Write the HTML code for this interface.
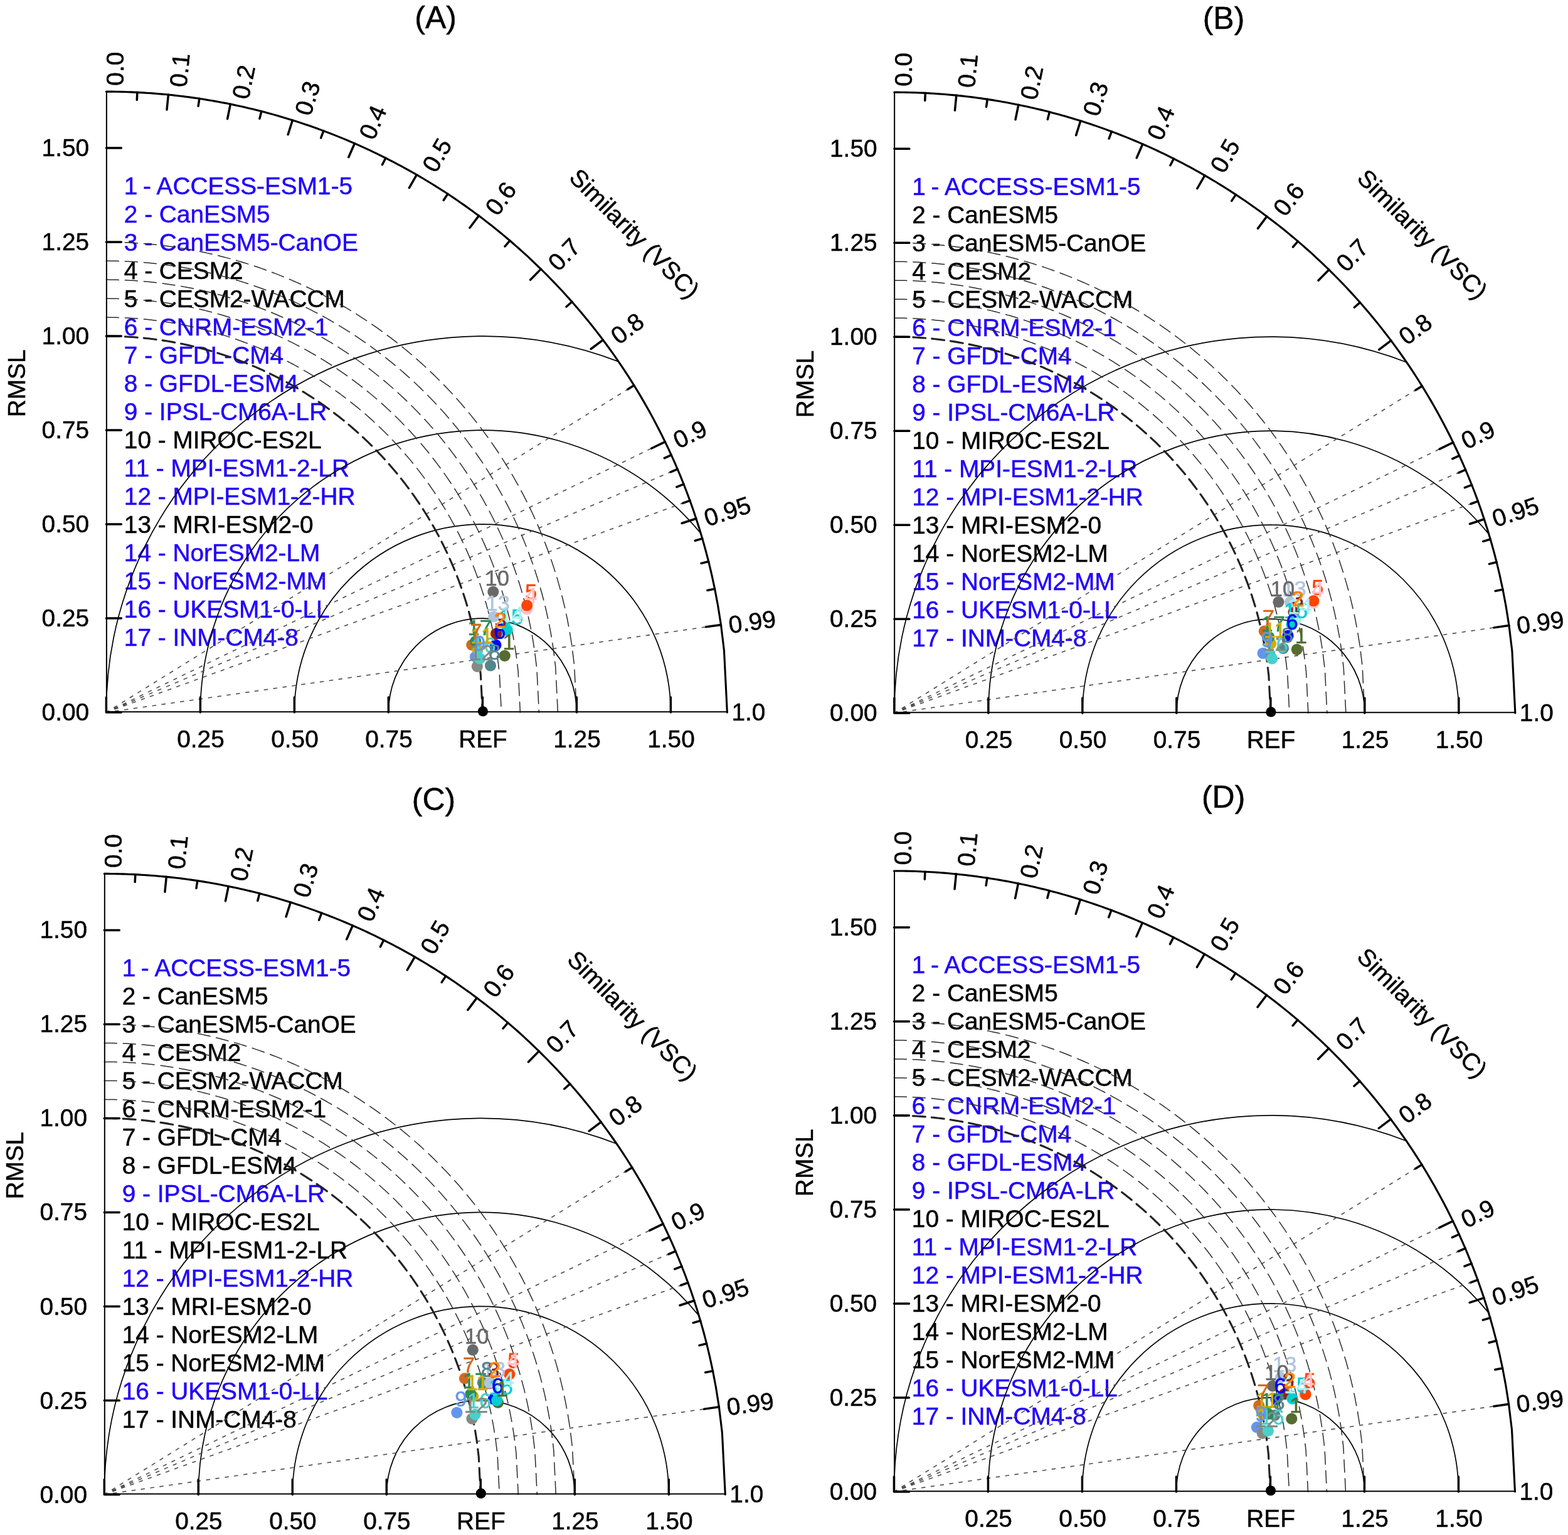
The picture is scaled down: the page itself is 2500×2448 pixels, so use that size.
<!DOCTYPE html>
<html lang="en"><head><meta charset="utf-8"><title>Taylor diagrams</title>
<style>
html,body{margin:0;padding:0;background:#fff}
svg{display:block}
text{font-family:"Liberation Sans", Arial, Helvetica, sans-serif;font-size:38.8px;stroke-width:.5px}
text:not([stroke]){stroke:#000}
text.b{fill:#2000ff;stroke:#2000ff}
path{fill:none;stroke:#000}
.gam{stroke-width:1.7}
.rad{stroke:#4d4d4d;stroke-width:1.6;stroke-dasharray:6.5 8.5;stroke-dashoffset:1.1}
.dc{stroke:#2b2b2b;stroke-width:1.5;stroke-dasharray:20 10;stroke-linecap:round;stroke-linejoin:round}
.dcb{stroke:#222;stroke-width:3.1;stroke-dasharray:20 10;stroke-linecap:round;stroke-linejoin:round}
.ax{stroke-width:2;stroke-linejoin:round;stroke-linecap:round}
.arc{stroke-width:3.1;stroke-linecap:round;stroke-linejoin:round}
.tk{stroke-width:3.5;stroke-linecap:round}
</style></head>
<body>
<svg xmlns="http://www.w3.org/2000/svg" width="2500" height="2448" viewBox="0 0 2500 2448">
<rect width="2500" height="2448" fill="#fff"/>
<g transform="translate(169.4 1136.1)">
<text transform="translate(525.2 -1091.4)" text-anchor="middle" style="font-size:50px">(A)</text>
<text transform="translate(-129 -524.7) rotate(-90)" text-anchor="middle">RMSL</text>
<text transform="translate(-27.3 13.1)" text-anchor="end">0.00</text>
<text transform="translate(-27.3 -136.9)" text-anchor="end">0.25</text>
<text transform="translate(-27.3 -286.9)" text-anchor="end">0.50</text>
<text transform="translate(-27.3 -436.9)" text-anchor="end">0.75</text>
<text transform="translate(-27.3 -586.9)" text-anchor="end">1.00</text>
<text transform="translate(-27.3 -736.9)" text-anchor="end">1.25</text>
<text transform="translate(-27.3 -886.9)" text-anchor="end">1.50</text>
<text transform="translate(150.6 55.8)" text-anchor="middle">0.25</text>
<text transform="translate(300.6 55.8)" text-anchor="middle">0.50</text>
<text transform="translate(450.6 55.8)" text-anchor="middle">0.75</text>
<text transform="translate(600.6 55.8)" text-anchor="middle">REF</text>
<text transform="translate(750.6 55.8)" text-anchor="middle">1.25</text>
<text transform="translate(900.6 55.8)" text-anchor="middle">1.50</text>
<text transform="translate(28.4 -826.6)" class="b">1<tspan dx="-2.2"> - ACCESS-ESM1-5</tspan></text>
<text transform="translate(28.4 -781.6)" class="b">2 - CanESM5</text>
<text transform="translate(28.4 -736.6)" class="b">3 - CanESM5-CanOE</text>
<text transform="translate(28.4 -691.6)">4 - CESM2</text>
<text transform="translate(28.4 -646.6)">5 - CESM2-WACCM</text>
<text transform="translate(28.4 -601.6)" class="b">6 - CNRM-ESM2-1</text>
<text transform="translate(28.4 -556.6)" class="b">7 - GFDL-CM4</text>
<text transform="translate(28.4 -511.6)" class="b">8 - GFDL-ESM4</text>
<text transform="translate(28.4 -466.6)" class="b">9 - IPSL-CM6A-LR</text>
<text transform="translate(28.4 -421.6)">10 - MIROC-ES2L</text>
<text transform="translate(28.4 -376.6)" class="b">11 - MPI-ESM1-2-LR</text>
<text transform="translate(28.4 -331.6)" class="b">12 - MPI-ESM1-2-HR</text>
<text transform="translate(28.4 -286.6)">13 - MRI-ESM2-0</text>
<text transform="translate(28.4 -241.6)" class="b">14 - NorESM2-LM</text>
<text transform="translate(28.4 -196.6)" class="b">15 - NorESM2-MM</text>
<text transform="translate(28.4 -151.6)" class="b">16 - UKESM1-0-LL</text>
<text transform="translate(28.4 -106.6)" class="b">17 - INM-CM4-8</text>
<text transform="translate(27.7 -999.4) rotate(-90)">0.0</text>
<text transform="translate(127.86 -996.21) rotate(-84.26)">0.1</text>
<text transform="translate(226.81 -976.16) rotate(-78.46)">0.2</text>
<text transform="translate(325.6 -949.66) rotate(-72.54)">0.3</text>
<text transform="translate(426.49 -910.96) rotate(-66.42)">0.4</text>
<text transform="translate(525.49 -858.58) rotate(-60)">0.5</text>
<text transform="translate(623.52 -789.86) rotate(-53.13)">0.6</text>
<text transform="translate(720.78 -701.48) rotate(-45.57)">0.7</text>
<text transform="translate(817.26 -585.32) rotate(-36.87)">0.8</text>
<text transform="translate(912.23 -419.81) rotate(-25.84)">0.9</text>
<text transform="translate(958.69 -296.05) rotate(-18.19)">0.95</text>
<text transform="translate(994.39 -125.83) rotate(-8.11)">0.99</text>
<text transform="translate(997 12.7)">1.0</text>
<text transform="translate(842.4 -763.8) rotate(45)" text-anchor="middle" dy="13.6">Similarity (VSC)</text>
<path class="gam" d="M750 0A150 150 0 0 0 450 0M900 0A300 300 0 0 0 300 0M948 -285.3A450 450 0 0 0 150 0M816.75 -559.48A600 600 0 0 0 0 0"/>
<path class="rad" d="M0 0L841.5 -521.51M0 0L891 -431.53M0 0L910.8 -388M0 0L930.6 -337.76M0 0L980.1 -139.66"/>
<path class="dc" d="M0 -630L3.15 -629.99L6.3 -629.97L9.45 -629.93L12.6 -629.87L15.75 -629.8L18.9 -629.72L22.05 -629.61L25.2 -629.5L28.35 -629.36L31.5 -629.21L34.65 -629.05L37.8 -628.86L40.95 -628.67L44.1 -628.45L47.25 -628.23L50.4 -627.98L53.55 -627.72L56.7 -627.44L59.85 -627.15L63 -626.84L66.15 -626.52L69.3 -626.18L72.45 -625.82L75.6 -625.45L78.75 -625.06L81.9 -624.65L85.05 -624.23L88.2 -623.8L91.35 -623.34L94.5 -622.87L97.65 -622.39L100.8 -621.88L103.95 -621.36L107.1 -620.83L110.25 -620.28L113.4 -619.71L116.55 -619.13L119.7 -618.52L122.85 -617.91L126 -617.27L129.15 -616.62L132.3 -615.95L135.45 -615.27L138.6 -614.56L141.75 -613.85L144.9 -613.11L148.05 -612.36L151.2 -611.59L154.35 -610.8L157.5 -609.99L160.65 -609.17L163.8 -608.33L166.95 -607.48L170.1 -606.6L173.25 -605.71L176.4 -604.8L179.55 -603.87L182.7 -602.93L185.85 -601.96L189 -600.98L192.15 -599.98L195.3 -598.96L198.45 -597.93L201.6 -596.87L204.75 -595.8L207.9 -594.71L211.05 -593.6L214.2 -592.47L217.35 -591.32L220.5 -590.15L223.65 -588.97L226.8 -587.76L229.95 -586.53L233.1 -585.29L236.25 -584.03L239.4 -582.74L242.55 -581.44L245.7 -580.11L248.85 -578.77L252 -577.4L255.15 -576.02L258.3 -574.61L261.45 -573.19L264.6 -571.74L267.75 -570.27L270.9 -568.78L274.05 -567.27L277.2 -565.74L280.35 -564.18L283.5 -562.61L286.65 -561.01L289.8 -559.39L292.95 -557.75L296.1 -556.08L299.25 -554.39L302.4 -552.68L305.55 -550.94L308.7 -549.19L311.85 -547.4L315 -545.6L318.15 -543.77L321.3 -541.91L324.45 -540.03L327.6 -538.12L330.75 -536.19L333.9 -534.24L337.05 -532.26L340.2 -530.25L343.35 -528.21L346.5 -526.15L349.65 -524.07L352.8 -521.95L355.95 -519.81L359.1 -517.64L362.25 -515.44L365.4 -513.21L368.55 -510.95L371.7 -508.66L374.85 -506.35L378 -504L381.15 -501.62L384.3 -499.21L387.45 -496.77L390.6 -494.3L393.75 -491.79L396.9 -489.25L400.05 -486.68L403.2 -484.08L406.35 -481.44L409.5 -478.76L412.65 -476.05L415.8 -473.3L418.95 -470.51L422.1 -467.69L425.25 -464.83L428.4 -461.92L431.55 -458.98L434.7 -456L437.85 -452.98L441 -449.91L444.15 -446.8L447.3 -443.65L450.45 -440.45L453.6 -437.2L456.75 -433.91L459.9 -430.57L463.05 -427.18L466.2 -423.74L469.35 -420.25L472.5 -416.71L475.65 -413.11L478.8 -409.45L481.95 -405.74L485.1 -401.97L488.25 -398.14L491.4 -394.24L494.55 -390.28L497.7 -386.26L500.85 -382.16L504 -378L507.15 -373.76L510.3 -369.45L513.45 -365.06L516.6 -360.59L519.75 -356.03L522.9 -351.39L526.05 -346.66L529.2 -341.83L532.35 -336.9L535.5 -331.87L538.65 -326.74L541.8 -321.49L544.95 -316.12L548.1 -310.62L551.25 -305L554.4 -299.23L557.55 -293.32L560.7 -287.26L563.85 -281.02L567 -274.61L570.15 -268.01L573.3 -261.2L576.45 -254.18L579.6 -246.91L582.75 -239.38L585.9 -231.56L589.05 -223.43L592.2 -214.94L595.35 -206.05L598.5 -196.72L601.65 -186.86L604.8 -176.4L607.95 -165.22L611.1 -153.16L614.25 -139.99L617.4 -125.37L620.55 -108.71L623.7 -88.87L626.85 -62.92L630 0M0 -660L3.3 -659.99L6.6 -659.97L9.9 -659.93L13.2 -659.87L16.5 -659.79L19.8 -659.7L23.1 -659.6L26.4 -659.47L29.7 -659.33L33 -659.17L36.3 -659L39.6 -658.81L42.9 -658.6L46.2 -658.38L49.5 -658.14L52.8 -657.88L56.1 -657.61L59.4 -657.32L62.7 -657.01L66 -656.69L69.3 -656.35L72.6 -655.99L75.9 -655.62L79.2 -655.23L82.5 -654.82L85.8 -654.4L89.1 -653.96L92.4 -653.5L95.7 -653.02L99 -652.53L102.3 -652.02L105.6 -651.5L108.9 -650.95L112.2 -650.39L115.5 -649.82L118.8 -649.22L122.1 -648.61L125.4 -647.98L128.7 -647.33L132 -646.67L135.3 -645.98L138.6 -645.28L141.9 -644.57L145.2 -643.83L148.5 -643.08L151.8 -642.31L155.1 -641.52L158.4 -640.71L161.7 -639.89L165 -639.04L168.3 -638.18L171.6 -637.3L174.9 -636.4L178.2 -635.49L181.5 -634.55L184.8 -633.6L188.1 -632.63L191.4 -631.64L194.7 -630.63L198 -629.6L201.3 -628.55L204.6 -627.49L207.9 -626.4L211.2 -625.3L214.5 -624.17L217.8 -623.03L221.1 -621.86L224.4 -620.68L227.7 -619.48L231 -618.25L234.3 -617.01L237.6 -615.75L240.9 -614.46L244.2 -613.16L247.5 -611.84L250.8 -610.49L254.1 -609.12L257.4 -607.74L260.7 -606.33L264 -604.9L267.3 -603.45L270.6 -601.98L273.9 -600.48L277.2 -598.97L280.5 -597.43L283.8 -595.87L287.1 -594.28L290.4 -592.68L293.7 -591.05L297 -589.4L300.3 -587.72L303.6 -586.03L306.9 -584.31L310.2 -582.56L313.5 -580.79L316.8 -579L320.1 -577.18L323.4 -575.34L326.7 -573.47L330 -571.58L333.3 -569.66L336.6 -567.72L339.9 -565.75L343.2 -563.75L346.5 -561.73L349.8 -559.68L353.1 -557.6L356.4 -555.5L359.7 -553.37L363 -551.21L366.3 -549.02L369.6 -546.81L372.9 -544.56L376.2 -542.29L379.5 -539.98L382.8 -537.65L386.1 -535.28L389.4 -532.89L392.7 -530.46L396 -528L399.3 -525.51L402.6 -522.98L405.9 -520.43L409.2 -517.84L412.5 -515.21L415.8 -512.55L419.1 -509.86L422.4 -507.13L425.7 -504.36L429 -501.56L432.3 -498.72L435.6 -495.84L438.9 -492.92L442.2 -489.96L445.5 -486.96L448.8 -483.92L452.1 -480.84L455.4 -477.71L458.7 -474.55L462 -471.33L465.3 -468.08L468.6 -464.77L471.9 -461.42L475.2 -458.02L478.5 -454.57L481.8 -451.08L485.1 -447.52L488.4 -443.92L491.7 -440.26L495 -436.55L498.3 -432.78L501.6 -428.95L504.9 -425.06L508.2 -421.11L511.5 -417.09L514.8 -413.01L518.1 -408.87L521.4 -404.65L524.7 -400.36L528 -396L531.3 -391.56L534.6 -387.04L537.9 -382.44L541.2 -377.76L544.5 -372.99L547.8 -368.12L551.1 -363.16L554.4 -358.11L557.7 -352.95L561 -347.68L564.3 -342.29L567.6 -336.79L570.9 -331.17L574.2 -325.41L577.5 -319.52L580.8 -313.48L584.1 -307.29L587.4 -300.93L590.7 -294.4L594 -287.69L597.3 -280.77L600.6 -273.64L603.9 -266.28L607.2 -258.67L610.5 -250.78L613.8 -242.59L617.1 -234.07L620.4 -225.18L623.7 -215.87L627 -206.08L630.3 -195.76L633.6 -184.8L636.9 -173.08L640.2 -160.45L643.5 -146.66L646.8 -131.34L650.1 -113.89L653.4 -93.1L656.7 -65.92L660 0M0 -690L3.45 -689.99L6.9 -689.97L10.35 -689.92L13.8 -689.86L17.25 -689.78L20.7 -689.69L24.15 -689.58L27.6 -689.45L31.05 -689.3L34.5 -689.14L37.95 -688.96L41.4 -688.76L44.85 -688.54L48.3 -688.31L51.75 -688.06L55.2 -687.79L58.65 -687.5L62.1 -687.2L65.55 -686.88L69 -686.54L72.45 -686.19L75.9 -685.81L79.35 -685.42L82.8 -685.01L86.25 -684.59L89.7 -684.14L93.15 -683.68L96.6 -683.2L100.05 -682.71L103.5 -682.19L106.95 -681.66L110.4 -681.11L113.85 -680.54L117.3 -679.96L120.75 -679.35L124.2 -678.73L127.65 -678.09L131.1 -677.43L134.55 -676.75L138 -676.06L141.45 -675.35L144.9 -674.61L148.35 -673.86L151.8 -673.09L155.25 -672.31L158.7 -671.5L162.15 -670.68L165.6 -669.83L169.05 -668.97L172.5 -668.09L175.95 -667.19L179.4 -666.27L182.85 -665.33L186.3 -664.37L189.75 -663.4L193.2 -662.4L196.65 -661.38L200.1 -660.35L203.55 -659.29L207 -658.22L210.45 -657.12L213.9 -656.01L217.35 -654.87L220.8 -653.72L224.25 -652.54L227.7 -651.35L231.15 -650.13L234.6 -648.89L238.05 -647.64L241.5 -646.36L244.95 -645.06L248.4 -643.74L251.85 -642.4L255.3 -641.03L258.75 -639.65L262.2 -638.24L265.65 -636.81L269.1 -635.36L272.55 -633.89L276 -632.4L279.45 -630.88L282.9 -629.34L286.35 -627.78L289.8 -626.19L293.25 -624.58L296.7 -622.95L300.15 -621.3L303.6 -619.62L307.05 -617.92L310.5 -616.19L313.95 -614.44L317.4 -612.66L320.85 -610.86L324.3 -609.04L327.75 -607.19L331.2 -605.32L334.65 -603.41L338.1 -601.49L341.55 -599.54L345 -597.56L348.45 -595.55L351.9 -593.52L355.35 -591.46L358.8 -589.37L362.25 -587.26L365.7 -585.12L369.15 -582.95L372.6 -580.75L376.05 -578.52L379.5 -576.26L382.95 -573.98L386.4 -571.66L389.85 -569.31L393.3 -566.93L396.75 -564.53L400.2 -562.09L403.65 -559.61L407.1 -557.11L410.55 -554.57L414 -552L417.45 -549.4L420.9 -546.76L424.35 -544.08L427.8 -541.38L431.25 -538.63L434.7 -535.85L438.15 -533.03L441.6 -530.18L445.05 -527.29L448.5 -524.35L451.95 -521.38L455.4 -518.37L458.85 -515.32L462.3 -512.23L465.75 -509.09L469.2 -505.92L472.65 -502.69L476.1 -499.43L479.55 -496.12L483 -492.76L486.45 -489.35L489.9 -485.9L493.35 -482.4L496.8 -478.84L500.25 -475.24L503.7 -471.58L507.15 -467.87L510.6 -464.1L514.05 -460.27L517.5 -456.39L520.95 -452.45L524.4 -448.45L527.85 -444.38L531.3 -440.25L534.75 -436.05L538.2 -431.79L541.65 -427.45L545.1 -423.04L548.55 -418.56L552 -414L555.45 -409.36L558.9 -404.64L562.35 -399.83L565.8 -394.93L569.25 -389.94L572.7 -384.86L576.15 -379.67L579.6 -374.38L583.05 -368.99L586.5 -363.48L589.95 -357.85L593.4 -352.1L596.85 -346.22L600.3 -340.21L603.75 -334.04L607.2 -327.73L610.65 -321.26L614.1 -314.61L617.55 -307.79L621 -300.76L624.45 -293.53L627.9 -286.08L631.35 -278.38L634.8 -270.42L638.25 -262.18L641.7 -253.62L645.15 -244.71L648.6 -235.41L652.05 -225.68L655.5 -215.45L658.95 -204.66L662.4 -193.2L665.85 -180.95L669.3 -167.74L672.75 -153.32L676.2 -137.31L679.65 -119.06L683.1 -97.34L686.55 -68.91L690 0M0 -720L3.6 -719.99L7.2 -719.96L10.8 -719.92L14.4 -719.86L18 -719.77L21.6 -719.68L25.2 -719.56L28.8 -719.42L32.4 -719.27L36 -719.1L39.6 -718.91L43.2 -718.7L46.8 -718.48L50.4 -718.23L54 -717.97L57.6 -717.69L61.2 -717.39L64.8 -717.08L68.4 -716.74L72 -716.39L75.6 -716.02L79.2 -715.63L82.8 -715.22L86.4 -714.8L90 -714.35L93.6 -713.89L97.2 -713.41L100.8 -712.91L104.4 -712.39L108 -711.85L111.6 -711.3L115.2 -710.72L118.8 -710.13L122.4 -709.52L126 -708.89L129.6 -708.24L133.2 -707.57L136.8 -706.88L140.4 -706.18L144 -705.45L147.6 -704.71L151.2 -703.94L154.8 -703.16L158.4 -702.36L162 -701.54L165.6 -700.7L169.2 -699.84L172.8 -698.96L176.4 -698.06L180 -697.14L183.6 -696.2L187.2 -695.24L190.8 -694.26L194.4 -693.26L198 -692.24L201.6 -691.2L205.2 -690.14L208.8 -689.06L212.4 -687.96L216 -686.84L219.6 -685.69L223.2 -684.53L226.8 -683.35L230.4 -682.14L234 -680.91L237.6 -679.67L241.2 -678.4L244.8 -677.11L248.4 -675.79L252 -674.46L255.6 -673.1L259.2 -671.73L262.8 -670.33L266.4 -668.9L270 -667.46L273.6 -665.99L277.2 -664.5L280.8 -662.99L284.4 -661.45L288 -659.89L291.6 -658.31L295.2 -656.7L298.8 -655.07L302.4 -653.42L306 -651.74L309.6 -650.04L313.2 -648.31L316.8 -646.56L320.4 -644.78L324 -642.98L327.6 -641.15L331.2 -639.3L334.8 -637.42L338.4 -635.52L342 -633.59L345.6 -631.63L349.2 -629.65L352.8 -627.64L356.4 -625.6L360 -623.54L363.6 -621.45L367.2 -619.33L370.8 -617.18L374.4 -615L378 -612.79L381.6 -610.56L385.2 -608.29L388.8 -606L392.4 -603.67L396 -601.32L399.6 -598.93L403.2 -596.51L406.8 -594.07L410.4 -591.58L414 -589.07L417.6 -586.52L421.2 -583.94L424.8 -581.33L428.4 -578.68L432 -576L435.6 -573.28L439.2 -570.53L442.8 -567.74L446.4 -564.91L450 -562.05L453.6 -559.15L457.2 -556.21L460.8 -553.23L464.4 -550.21L468 -547.15L471.6 -544.05L475.2 -540.91L478.8 -537.73L482.4 -534.5L486 -531.23L489.6 -527.91L493.2 -524.55L496.8 -521.14L500.4 -517.69L504 -514.18L507.6 -510.63L511.2 -507.03L514.8 -503.37L518.4 -499.66L522 -495.9L525.6 -492.08L529.2 -488.21L532.8 -484.28L536.4 -480.29L540 -476.24L543.6 -472.12L547.2 -467.94L550.8 -463.7L554.4 -459.39L558 -455.01L561.6 -450.56L565.2 -446.04L568.8 -441.44L572.4 -436.76L576 -432L579.6 -427.16L583.2 -422.23L586.8 -417.21L590.4 -412.1L594 -406.9L597.6 -401.59L601.2 -396.18L604.8 -390.66L608.4 -385.03L612 -379.28L615.6 -373.41L619.2 -367.41L622.8 -361.28L626.4 -355L630 -348.57L633.6 -341.98L637.2 -335.23L640.8 -328.29L644.4 -321.17L648 -313.84L651.6 -306.3L655.2 -298.52L658.8 -290.49L662.4 -282.18L666 -273.58L669.6 -264.64L673.2 -255.35L676.8 -245.65L680.4 -235.49L684 -224.82L687.6 -213.56L691.2 -201.6L694.8 -188.82L698.4 -175.04L702 -159.99L705.6 -143.28L709.2 -124.24L712.8 -101.57L716.4 -71.91L720 0M0 -750L3.75 -749.99L7.5 -749.96L11.25 -749.92L15 -749.85L18.75 -749.77L22.5 -749.66L26.25 -749.54L30 -749.4L33.75 -749.24L37.5 -749.06L41.25 -748.86L45 -748.65L48.75 -748.41L52.5 -748.16L56.25 -747.89L60 -747.6L63.75 -747.29L67.5 -746.96L71.25 -746.61L75 -746.24L78.75 -745.85L82.5 -745.45L86.25 -745.02L90 -744.58L93.75 -744.12L97.5 -743.64L101.25 -743.13L105 -742.61L108.75 -742.07L112.5 -741.51L116.25 -740.94L120 -740.34L123.75 -739.72L127.5 -739.08L131.25 -738.43L135 -737.75L138.75 -737.05L142.5 -736.34L146.25 -735.6L150 -734.85L153.75 -734.07L157.5 -733.28L161.25 -732.46L165 -731.62L168.75 -730.77L172.5 -729.89L176.25 -729L180 -728.08L183.75 -727.14L187.5 -726.18L191.25 -725.21L195 -724.21L198.75 -723.19L202.5 -722.15L206.25 -721.08L210 -720L213.75 -718.9L217.5 -717.77L221.25 -716.62L225 -715.45L228.75 -714.26L232.5 -713.05L236.25 -711.82L240 -710.56L243.75 -709.29L247.5 -707.99L251.25 -706.66L255 -705.32L258.75 -703.95L262.5 -702.56L266.25 -701.15L270 -699.71L273.75 -698.26L277.5 -696.77L281.25 -695.27L285 -693.74L288.75 -692.19L292.5 -690.61L296.25 -689.01L300 -687.39L303.75 -685.74L307.5 -684.06L311.25 -682.37L315 -680.64L318.75 -678.9L322.5 -677.12L326.25 -675.32L330 -673.5L333.75 -671.65L337.5 -669.77L341.25 -667.87L345 -665.94L348.75 -663.98L352.5 -662L356.25 -659.99L360 -657.95L363.75 -655.89L367.5 -653.79L371.25 -651.67L375 -649.52L378.75 -647.34L382.5 -645.13L386.25 -642.89L390 -640.62L393.75 -638.33L397.5 -636L401.25 -633.64L405 -631.25L408.75 -628.83L412.5 -626.37L416.25 -623.89L420 -621.37L423.75 -618.82L427.5 -616.23L431.25 -613.62L435 -610.96L438.75 -608.27L442.5 -605.55L446.25 -602.79L450 -600L453.75 -597.17L457.5 -594.3L461.25 -591.4L465 -588.45L468.75 -585.47L472.5 -582.45L476.25 -579.38L480 -576.28L483.75 -573.14L487.5 -569.95L491.25 -566.72L495 -563.45L498.75 -560.13L502.5 -556.77L506.25 -553.36L510 -549.91L513.75 -546.41L517.5 -542.86L521.25 -539.26L525 -535.61L528.75 -531.91L532.5 -528.15L536.25 -524.34L540 -520.48L543.75 -516.56L547.5 -512.59L551.25 -508.55L555 -504.46L558.75 -500.3L562.5 -496.08L566.25 -491.79L570 -487.44L573.75 -483.02L577.5 -478.53L581.25 -473.97L585 -469.33L588.75 -464.62L592.5 -459.83L596.25 -454.96L600 -450L603.75 -444.96L607.5 -439.82L611.25 -434.6L615 -429.27L618.75 -423.85L622.5 -418.32L626.25 -412.69L630 -406.94L633.75 -401.07L637.5 -395.09L641.25 -388.97L645 -382.72L648.75 -376.33L652.5 -369.79L656.25 -363.09L660 -356.23L663.75 -349.19L667.5 -341.97L671.25 -334.55L675 -326.92L678.75 -319.06L682.5 -310.96L686.25 -302.59L690 -293.94L693.75 -284.98L697.5 -275.67L701.25 -265.99L705 -255.88L708.75 -245.3L712.5 -234.19L716.25 -222.45L720 -210L723.75 -196.69L727.5 -182.33L731.25 -166.65L735 -149.25L738.75 -129.42L742.5 -105.8L746.25 -74.91L750 0"/>
<path class="dcb" d="M0 -600L3 -599.99L6 -599.97L9 -599.93L12 -599.88L15 -599.81L18 -599.73L21 -599.63L24 -599.52L27 -599.39L30 -599.25L33 -599.09L36 -598.92L39 -598.73L42 -598.53L45 -598.31L48 -598.08L51 -597.83L54 -597.57L57 -597.29L60 -596.99L63 -596.68L66 -596.36L69 -596.02L72 -595.66L75 -595.29L78 -594.91L81 -594.51L84 -594.09L87 -593.66L90 -593.21L93 -592.75L96 -592.27L99 -591.78L102 -591.27L105 -590.74L108 -590.2L111 -589.64L114 -589.07L117 -588.48L120 -587.88L123 -587.26L126 -586.62L129 -585.97L132 -585.3L135 -584.62L138 -583.91L141 -583.2L144 -582.46L147 -581.71L150 -580.95L153 -580.16L156 -579.37L159 -578.55L162 -577.72L165 -576.87L168 -576L171 -575.12L174 -574.22L177 -573.3L180 -572.36L183 -571.41L186 -570.44L189 -569.46L192 -568.45L195 -567.43L198 -566.39L201 -565.33L204 -564.26L207 -563.16L210 -562.05L213 -560.92L216 -559.77L219 -558.6L222 -557.42L225 -556.21L228 -554.99L231 -553.75L234 -552.49L237 -551.21L240 -549.91L243 -548.59L246 -547.25L249 -545.89L252 -544.51L255 -543.12L258 -541.7L261 -540.26L264 -538.8L267 -537.32L270 -535.82L273 -534.29L276 -532.75L279 -531.19L282 -529.6L285 -527.99L288 -526.36L291 -524.71L294 -523.03L297 -521.34L300 -519.62L303 -517.87L306 -516.1L309 -514.31L312 -512.5L315 -510.66L318 -508.8L321 -506.91L324 -505L327 -503.06L330 -501.1L333 -499.11L336 -497.1L339 -495.05L342 -492.99L345 -490.89L348 -488.77L351 -486.62L354 -484.44L357 -482.24L360 -480L363 -477.74L366 -475.44L369 -473.12L372 -470.76L375 -468.37L378 -465.96L381 -463.51L384 -461.02L387 -458.51L390 -455.96L393 -453.38L396 -450.76L399 -448.11L402 -445.42L405 -442.69L408 -439.93L411 -437.13L414 -434.29L417 -431.41L420 -428.49L423 -425.52L426 -422.52L429 -419.47L432 -416.38L435 -413.25L438 -410.07L441 -406.84L444 -403.56L447 -400.24L450 -396.86L453 -393.43L456 -389.95L459 -386.42L462 -382.83L465 -379.18L468 -375.47L471 -371.7L474 -367.86L477 -363.97L480 -360L483 -355.96L486 -351.86L489 -347.68L492 -343.42L495 -339.08L498 -334.66L501 -330.15L504 -325.55L507 -320.86L510 -316.07L513 -311.18L516 -306.18L519 -301.06L522 -295.83L525 -290.47L528 -284.98L531 -279.35L534 -273.58L537 -267.64L540 -261.53L543 -255.25L546 -248.76L549 -242.07L552 -235.15L555 -227.98L558 -220.54L561 -212.79L564 -204.7L567 -196.24L570 -187.35L573 -177.96L576 -168L579 -157.35L582 -145.86L585 -133.32L588 -119.4L591 -103.53L594 -84.64L597 -59.92L600 0"/>
<path class="arc" d="M0 -990L4.95 -989.99L9.9 -989.95L14.85 -989.89L19.8 -989.8L24.75 -989.69L29.7 -989.55L34.65 -989.39L39.6 -989.21L44.55 -989L49.5 -988.76L54.45 -988.5L59.4 -988.22L64.35 -987.91L69.3 -987.57L74.25 -987.21L79.2 -986.83L84.15 -986.42L89.1 -985.98L94.05 -985.52L99 -985.04L103.95 -984.53L108.9 -983.99L113.85 -983.43L118.8 -982.85L123.75 -982.24L128.7 -981.6L133.65 -980.94L138.6 -980.25L143.55 -979.54L148.5 -978.8L153.45 -978.04L158.4 -977.25L163.35 -976.43L168.3 -975.59L173.25 -974.72L178.2 -973.83L183.15 -972.91L188.1 -971.97L193.05 -971L198 -970L202.95 -968.97L207.9 -967.92L212.85 -966.85L217.8 -965.74L222.75 -964.62L227.7 -963.46L232.65 -962.28L237.6 -961.07L242.55 -959.83L247.5 -958.56L252.45 -957.27L257.4 -955.95L262.35 -954.61L267.3 -953.23L272.25 -951.83L277.2 -950.4L282.15 -948.94L287.1 -947.46L292.05 -945.94L297 -944.4L301.95 -942.83L306.9 -941.23L311.85 -939.6L316.8 -937.94L321.75 -936.26L326.7 -934.54L331.65 -932.8L336.6 -931.02L341.55 -929.22L346.5 -927.38L351.45 -925.52L356.4 -923.62L361.35 -921.7L366.3 -919.74L371.25 -917.75L376.2 -915.74L381.15 -913.69L386.1 -911.61L391.05 -909.49L396 -907.35L400.95 -905.17L405.9 -902.96L410.85 -900.72L415.8 -898.45L420.75 -896.14L425.7 -893.8L430.65 -891.43L435.6 -889.02L440.55 -886.58L445.5 -884.1L450.45 -881.59L455.4 -879.04L460.35 -876.46L465.3 -873.84L470.25 -871.19L475.2 -868.5L480.15 -865.77L485.1 -863.01L490.05 -860.2L495 -857.37L499.95 -854.49L504.9 -851.57L509.85 -848.62L514.8 -845.62L519.75 -842.59L524.7 -839.52L529.65 -836.4L534.6 -833.25L539.55 -830.05L544.5 -826.81L549.45 -823.53L554.4 -820.21L559.35 -816.84L564.3 -813.43L569.25 -809.97L574.2 -806.47L579.15 -802.92L584.1 -799.33L589.05 -795.69L594 -792L598.95 -788.26L603.9 -784.48L608.85 -780.64L613.8 -776.76L618.75 -772.82L623.7 -768.83L628.65 -764.79L633.6 -760.69L638.55 -756.54L643.5 -752.33L648.45 -748.07L653.4 -743.75L658.35 -739.37L663.3 -734.94L668.25 -730.44L673.2 -725.88L678.15 -721.26L683.1 -716.57L688.05 -711.82L693 -707L697.95 -702.12L702.9 -697.16L707.85 -692.13L712.8 -687.03L717.75 -681.86L722.7 -676.61L727.65 -671.29L732.6 -665.88L737.55 -660.39L742.5 -654.82L747.45 -649.17L752.4 -643.42L757.35 -637.59L762.3 -631.66L767.25 -625.64L772.2 -619.52L777.15 -613.3L782.1 -606.98L787.05 -600.54L792 -594L796.95 -587.34L801.9 -580.57L806.85 -573.67L811.8 -566.64L816.75 -559.48L821.7 -552.19L826.65 -544.75L831.6 -537.16L836.55 -529.42L841.5 -521.51L846.45 -513.44L851.4 -505.19L856.35 -496.75L861.3 -488.12L866.25 -479.28L871.2 -470.22L876.15 -460.94L881.1 -451.4L886.05 -441.61L891 -431.53L895.95 -421.16L900.9 -410.46L905.85 -399.42L910.8 -388L915.75 -376.17L920.7 -363.88L925.65 -351.1L930.6 -337.76L935.55 -323.8L940.5 -309.13L945.45 -293.64L950.4 -277.2L955.35 -259.63L960.3 -240.67L965.25 -219.98L970.2 -197.01L975.15 -170.83L980.1 -139.66L985.05 -98.88L990 0"/>
<path class="tk" d="M99 -985.04L96.6 -961.16M198 -970L193.2 -946.48M297 -944.4L289.8 -921.51M396 -907.35L386.4 -885.35M495 -857.37L483 -836.58M594 -792L579.6 -772.8M693 -707L676.2 -689.86M792 -594L772.8 -579.6M891 -431.53L869.4 -421.07M940.5 -309.13L917.7 -301.63M980.1 -139.66L956.34 -136.27M49.5 -988.76L48.9 -976.78M148.5 -978.8L146.7 -966.93M247.5 -958.56L244.5 -946.94M346.5 -927.38L342.3 -916.14M445.5 -884.1L440.1 -873.38M544.5 -826.81L537.9 -816.79M643.5 -752.33L635.7 -743.22M742.5 -654.82L733.5 -646.89M841.5 -521.51L831.3 -515.19M900.9 -410.46L889.98 -405.49M910.8 -388L899.76 -383.3M920.7 -363.88L909.54 -359.47M930.6 -337.76L919.32 -333.67M950.4 -277.2L938.88 -273.84M960.3 -240.67L948.66 -237.76M970.2 -197.01L958.44 -194.62M0 0L0 -24M0 0L24 0M150 0L150 -24M0 -150L24 -150M300 0L300 -24M0 -300L24 -300M450 0L450 -24M0 -450L24 -450M600 0L600 -24M0 -600L24 -600M750 0L750 -24M0 -750L24 -750M900 0L900 -24M0 -900L24 -900"/>
<path class="ax" d="M0.5 -990L0.5 -0.75L990 -0.75"/>
<circle cx="600.56" cy="-1.7" r="8.1"/>
<circle cx="635.3" cy="-90.3" r="9.1" fill="#556B2F"/>
<circle cx="621.1" cy="-125.3" r="9.1" fill="#FF8C00"/>
<circle cx="622.1" cy="-125.6" r="9.1" fill="#8B2323"/>
<circle cx="670.8" cy="-164.5" r="9.1" fill="#FFC0CB"/>
<circle cx="670.8" cy="-170.6" r="9.1" fill="#FF4500"/>
<circle cx="621" cy="-107.4" r="9.1" fill="#0000FF"/>
<circle cx="583" cy="-107.6" r="9.1" fill="#D2691E"/>
<circle cx="612.6" cy="-74.6" r="9.1" fill="#53868B"/>
<circle cx="588.6" cy="-88.7" r="9.1" fill="#6495ED"/>
<circle cx="616.9" cy="-192.3" r="9.1" fill="#696969"/>
<circle cx="592.1" cy="-100.5" r="9.1" fill="#CDAD00"/>
<circle cx="591.5" cy="-73.3" r="9.1" fill="#838B83"/>
<circle cx="617.9" cy="-152.6" r="9.1" fill="#B0C4DE"/>
<circle cx="640.1" cy="-134.6" r="9.1" fill="#AFEEEE"/>
<circle cx="639.1" cy="-131.1" r="9.1" fill="#00CED1"/>
<circle cx="595.6" cy="-85.9" r="9.1" fill="#48D1CC"/>
<circle cx="588.9" cy="-113.3" r="9.1" fill="#2E8B57"/>
<text transform="translate(595.4 -122.8)" text-anchor="middle" fill="#2E8B57" stroke="#2E8B57" style="font-size:34.5px">17</text>
<text transform="translate(602.1 -95.4)" text-anchor="middle" fill="#48D1CC" stroke="#48D1CC" style="font-size:34.5px">16</text>
<text transform="translate(645.6 -140.6)" text-anchor="middle" fill="#00CED1" stroke="#00CED1" style="font-size:34.5px">15</text>
<text transform="translate(646.6 -144.1)" text-anchor="middle" fill="#AFEEEE" stroke="#AFEEEE" style="font-size:34.5px">14</text>
<text transform="translate(624.4 -162.1)" text-anchor="middle" fill="#B0C4DE" stroke="#B0C4DE" style="font-size:34.5px">13</text>
<text transform="translate(598 -82.8)" text-anchor="middle" fill="#838B83" stroke="#838B83" style="font-size:34.5px">12</text>
<text transform="translate(598.6 -110)" text-anchor="middle" fill="#CDAD00" stroke="#CDAD00" style="font-size:34.5px">11</text>
<text transform="translate(623.4 -201.8)" text-anchor="middle" fill="#696969" stroke="#696969" style="font-size:34.5px">10</text>
<text transform="translate(595.1 -98.2)" text-anchor="middle" fill="#6495ED" stroke="#6495ED" style="font-size:34.5px">9</text>
<text transform="translate(619.1 -84.1)" text-anchor="middle" fill="#53868B" stroke="#53868B" style="font-size:34.5px">8</text>
<text transform="translate(589.5 -117.1)" text-anchor="middle" fill="#D2691E" stroke="#D2691E" style="font-size:34.5px">7</text>
<text transform="translate(627.5 -116.9)" text-anchor="middle" fill="#0000FF" stroke="#0000FF" style="font-size:34.5px">6</text>
<text transform="translate(677.3 -180.1)" text-anchor="middle" fill="#FF4500" stroke="#FF4500" style="font-size:34.5px">5</text>
<text transform="translate(677.3 -174)" text-anchor="middle" fill="#FFC0CB" stroke="#FFC0CB" style="font-size:34.5px">4</text>
<text transform="translate(628.6 -135.1)" text-anchor="middle" fill="#8B2323" stroke="#8B2323" style="font-size:34.5px">3</text>
<text transform="translate(627.6 -134.8)" text-anchor="middle" fill="#FF8C00" stroke="#FF8C00" style="font-size:34.5px">2</text>
<text transform="translate(641.8 -99.8)" text-anchor="middle" fill="#556B2F" stroke="#556B2F" style="font-size:34.5px">1</text>
</g>
<g transform="translate(1425.85 1137.15)">
<text transform="translate(525.2 -1091.4)" text-anchor="middle" style="font-size:50px">(B)</text>
<text transform="translate(-129 -524.7) rotate(-90)" text-anchor="middle">RMSL</text>
<text transform="translate(-27.3 13.1)" text-anchor="end">0.00</text>
<text transform="translate(-27.3 -136.9)" text-anchor="end">0.25</text>
<text transform="translate(-27.3 -286.9)" text-anchor="end">0.50</text>
<text transform="translate(-27.3 -436.9)" text-anchor="end">0.75</text>
<text transform="translate(-27.3 -586.9)" text-anchor="end">1.00</text>
<text transform="translate(-27.3 -736.9)" text-anchor="end">1.25</text>
<text transform="translate(-27.3 -886.9)" text-anchor="end">1.50</text>
<text transform="translate(150.6 55.8)" text-anchor="middle">0.25</text>
<text transform="translate(300.6 55.8)" text-anchor="middle">0.50</text>
<text transform="translate(450.6 55.8)" text-anchor="middle">0.75</text>
<text transform="translate(600.6 55.8)" text-anchor="middle">REF</text>
<text transform="translate(750.6 55.8)" text-anchor="middle">1.25</text>
<text transform="translate(900.6 55.8)" text-anchor="middle">1.50</text>
<text transform="translate(28.4 -826.6)" class="b">1<tspan dx="-2.2"> - ACCESS-ESM1-5</tspan></text>
<text transform="translate(28.4 -781.6)">2 - CanESM5</text>
<text transform="translate(28.4 -736.6)">3 - CanESM5-CanOE</text>
<text transform="translate(28.4 -691.6)">4 - CESM2</text>
<text transform="translate(28.4 -646.6)">5 - CESM2-WACCM</text>
<text transform="translate(28.4 -601.6)" class="b">6 - CNRM-ESM2-1</text>
<text transform="translate(28.4 -556.6)" class="b">7 - GFDL-CM4</text>
<text transform="translate(28.4 -511.6)" class="b">8 - GFDL-ESM4</text>
<text transform="translate(28.4 -466.6)" class="b">9 - IPSL-CM6A-LR</text>
<text transform="translate(28.4 -421.6)">10 - MIROC-ES2L</text>
<text transform="translate(28.4 -376.6)" class="b">11 - MPI-ESM1-2-LR</text>
<text transform="translate(28.4 -331.6)" class="b">12 - MPI-ESM1-2-HR</text>
<text transform="translate(28.4 -286.6)">13 - MRI-ESM2-0</text>
<text transform="translate(28.4 -241.6)">14 - NorESM2-LM</text>
<text transform="translate(28.4 -196.6)" class="b">15 - NorESM2-MM</text>
<text transform="translate(28.4 -151.6)" class="b">16 - UKESM1-0-LL</text>
<text transform="translate(28.4 -106.6)" class="b">17 - INM-CM4-8</text>
<text transform="translate(27.7 -999.4) rotate(-90)">0.0</text>
<text transform="translate(127.86 -996.21) rotate(-84.26)">0.1</text>
<text transform="translate(226.81 -976.16) rotate(-78.46)">0.2</text>
<text transform="translate(325.6 -949.66) rotate(-72.54)">0.3</text>
<text transform="translate(426.49 -910.96) rotate(-66.42)">0.4</text>
<text transform="translate(525.49 -858.58) rotate(-60)">0.5</text>
<text transform="translate(623.52 -789.86) rotate(-53.13)">0.6</text>
<text transform="translate(720.78 -701.48) rotate(-45.57)">0.7</text>
<text transform="translate(817.26 -585.32) rotate(-36.87)">0.8</text>
<text transform="translate(912.23 -419.81) rotate(-25.84)">0.9</text>
<text transform="translate(958.69 -296.05) rotate(-18.19)">0.95</text>
<text transform="translate(994.39 -125.83) rotate(-8.11)">0.99</text>
<text transform="translate(997 12.7)">1.0</text>
<text transform="translate(842.4 -763.8) rotate(45)" text-anchor="middle" dy="13.6">Similarity (VSC)</text>
<path class="gam" d="M750 0A150 150 0 0 0 450 0M900 0A300 300 0 0 0 300 0M948 -285.3A450 450 0 0 0 150 0M816.75 -559.48A600 600 0 0 0 0 0"/>
<path class="rad" d="M0 0L841.5 -521.51M0 0L891 -431.53M0 0L910.8 -388M0 0L930.6 -337.76M0 0L980.1 -139.66"/>
<path class="dc" d="M0 -630L3.15 -629.99L6.3 -629.97L9.45 -629.93L12.6 -629.87L15.75 -629.8L18.9 -629.72L22.05 -629.61L25.2 -629.5L28.35 -629.36L31.5 -629.21L34.65 -629.05L37.8 -628.86L40.95 -628.67L44.1 -628.45L47.25 -628.23L50.4 -627.98L53.55 -627.72L56.7 -627.44L59.85 -627.15L63 -626.84L66.15 -626.52L69.3 -626.18L72.45 -625.82L75.6 -625.45L78.75 -625.06L81.9 -624.65L85.05 -624.23L88.2 -623.8L91.35 -623.34L94.5 -622.87L97.65 -622.39L100.8 -621.88L103.95 -621.36L107.1 -620.83L110.25 -620.28L113.4 -619.71L116.55 -619.13L119.7 -618.52L122.85 -617.91L126 -617.27L129.15 -616.62L132.3 -615.95L135.45 -615.27L138.6 -614.56L141.75 -613.85L144.9 -613.11L148.05 -612.36L151.2 -611.59L154.35 -610.8L157.5 -609.99L160.65 -609.17L163.8 -608.33L166.95 -607.48L170.1 -606.6L173.25 -605.71L176.4 -604.8L179.55 -603.87L182.7 -602.93L185.85 -601.96L189 -600.98L192.15 -599.98L195.3 -598.96L198.45 -597.93L201.6 -596.87L204.75 -595.8L207.9 -594.71L211.05 -593.6L214.2 -592.47L217.35 -591.32L220.5 -590.15L223.65 -588.97L226.8 -587.76L229.95 -586.53L233.1 -585.29L236.25 -584.03L239.4 -582.74L242.55 -581.44L245.7 -580.11L248.85 -578.77L252 -577.4L255.15 -576.02L258.3 -574.61L261.45 -573.19L264.6 -571.74L267.75 -570.27L270.9 -568.78L274.05 -567.27L277.2 -565.74L280.35 -564.18L283.5 -562.61L286.65 -561.01L289.8 -559.39L292.95 -557.75L296.1 -556.08L299.25 -554.39L302.4 -552.68L305.55 -550.94L308.7 -549.19L311.85 -547.4L315 -545.6L318.15 -543.77L321.3 -541.91L324.45 -540.03L327.6 -538.12L330.75 -536.19L333.9 -534.24L337.05 -532.26L340.2 -530.25L343.35 -528.21L346.5 -526.15L349.65 -524.07L352.8 -521.95L355.95 -519.81L359.1 -517.64L362.25 -515.44L365.4 -513.21L368.55 -510.95L371.7 -508.66L374.85 -506.35L378 -504L381.15 -501.62L384.3 -499.21L387.45 -496.77L390.6 -494.3L393.75 -491.79L396.9 -489.25L400.05 -486.68L403.2 -484.08L406.35 -481.44L409.5 -478.76L412.65 -476.05L415.8 -473.3L418.95 -470.51L422.1 -467.69L425.25 -464.83L428.4 -461.92L431.55 -458.98L434.7 -456L437.85 -452.98L441 -449.91L444.15 -446.8L447.3 -443.65L450.45 -440.45L453.6 -437.2L456.75 -433.91L459.9 -430.57L463.05 -427.18L466.2 -423.74L469.35 -420.25L472.5 -416.71L475.65 -413.11L478.8 -409.45L481.95 -405.74L485.1 -401.97L488.25 -398.14L491.4 -394.24L494.55 -390.28L497.7 -386.26L500.85 -382.16L504 -378L507.15 -373.76L510.3 -369.45L513.45 -365.06L516.6 -360.59L519.75 -356.03L522.9 -351.39L526.05 -346.66L529.2 -341.83L532.35 -336.9L535.5 -331.87L538.65 -326.74L541.8 -321.49L544.95 -316.12L548.1 -310.62L551.25 -305L554.4 -299.23L557.55 -293.32L560.7 -287.26L563.85 -281.02L567 -274.61L570.15 -268.01L573.3 -261.2L576.45 -254.18L579.6 -246.91L582.75 -239.38L585.9 -231.56L589.05 -223.43L592.2 -214.94L595.35 -206.05L598.5 -196.72L601.65 -186.86L604.8 -176.4L607.95 -165.22L611.1 -153.16L614.25 -139.99L617.4 -125.37L620.55 -108.71L623.7 -88.87L626.85 -62.92L630 0M0 -660L3.3 -659.99L6.6 -659.97L9.9 -659.93L13.2 -659.87L16.5 -659.79L19.8 -659.7L23.1 -659.6L26.4 -659.47L29.7 -659.33L33 -659.17L36.3 -659L39.6 -658.81L42.9 -658.6L46.2 -658.38L49.5 -658.14L52.8 -657.88L56.1 -657.61L59.4 -657.32L62.7 -657.01L66 -656.69L69.3 -656.35L72.6 -655.99L75.9 -655.62L79.2 -655.23L82.5 -654.82L85.8 -654.4L89.1 -653.96L92.4 -653.5L95.7 -653.02L99 -652.53L102.3 -652.02L105.6 -651.5L108.9 -650.95L112.2 -650.39L115.5 -649.82L118.8 -649.22L122.1 -648.61L125.4 -647.98L128.7 -647.33L132 -646.67L135.3 -645.98L138.6 -645.28L141.9 -644.57L145.2 -643.83L148.5 -643.08L151.8 -642.31L155.1 -641.52L158.4 -640.71L161.7 -639.89L165 -639.04L168.3 -638.18L171.6 -637.3L174.9 -636.4L178.2 -635.49L181.5 -634.55L184.8 -633.6L188.1 -632.63L191.4 -631.64L194.7 -630.63L198 -629.6L201.3 -628.55L204.6 -627.49L207.9 -626.4L211.2 -625.3L214.5 -624.17L217.8 -623.03L221.1 -621.86L224.4 -620.68L227.7 -619.48L231 -618.25L234.3 -617.01L237.6 -615.75L240.9 -614.46L244.2 -613.16L247.5 -611.84L250.8 -610.49L254.1 -609.12L257.4 -607.74L260.7 -606.33L264 -604.9L267.3 -603.45L270.6 -601.98L273.9 -600.48L277.2 -598.97L280.5 -597.43L283.8 -595.87L287.1 -594.28L290.4 -592.68L293.7 -591.05L297 -589.4L300.3 -587.72L303.6 -586.03L306.9 -584.31L310.2 -582.56L313.5 -580.79L316.8 -579L320.1 -577.18L323.4 -575.34L326.7 -573.47L330 -571.58L333.3 -569.66L336.6 -567.72L339.9 -565.75L343.2 -563.75L346.5 -561.73L349.8 -559.68L353.1 -557.6L356.4 -555.5L359.7 -553.37L363 -551.21L366.3 -549.02L369.6 -546.81L372.9 -544.56L376.2 -542.29L379.5 -539.98L382.8 -537.65L386.1 -535.28L389.4 -532.89L392.7 -530.46L396 -528L399.3 -525.51L402.6 -522.98L405.9 -520.43L409.2 -517.84L412.5 -515.21L415.8 -512.55L419.1 -509.86L422.4 -507.13L425.7 -504.36L429 -501.56L432.3 -498.72L435.6 -495.84L438.9 -492.92L442.2 -489.96L445.5 -486.96L448.8 -483.92L452.1 -480.84L455.4 -477.71L458.7 -474.55L462 -471.33L465.3 -468.08L468.6 -464.77L471.9 -461.42L475.2 -458.02L478.5 -454.57L481.8 -451.08L485.1 -447.52L488.4 -443.92L491.7 -440.26L495 -436.55L498.3 -432.78L501.6 -428.95L504.9 -425.06L508.2 -421.11L511.5 -417.09L514.8 -413.01L518.1 -408.87L521.4 -404.65L524.7 -400.36L528 -396L531.3 -391.56L534.6 -387.04L537.9 -382.44L541.2 -377.76L544.5 -372.99L547.8 -368.12L551.1 -363.16L554.4 -358.11L557.7 -352.95L561 -347.68L564.3 -342.29L567.6 -336.79L570.9 -331.17L574.2 -325.41L577.5 -319.52L580.8 -313.48L584.1 -307.29L587.4 -300.93L590.7 -294.4L594 -287.69L597.3 -280.77L600.6 -273.64L603.9 -266.28L607.2 -258.67L610.5 -250.78L613.8 -242.59L617.1 -234.07L620.4 -225.18L623.7 -215.87L627 -206.08L630.3 -195.76L633.6 -184.8L636.9 -173.08L640.2 -160.45L643.5 -146.66L646.8 -131.34L650.1 -113.89L653.4 -93.1L656.7 -65.92L660 0M0 -690L3.45 -689.99L6.9 -689.97L10.35 -689.92L13.8 -689.86L17.25 -689.78L20.7 -689.69L24.15 -689.58L27.6 -689.45L31.05 -689.3L34.5 -689.14L37.95 -688.96L41.4 -688.76L44.85 -688.54L48.3 -688.31L51.75 -688.06L55.2 -687.79L58.65 -687.5L62.1 -687.2L65.55 -686.88L69 -686.54L72.45 -686.19L75.9 -685.81L79.35 -685.42L82.8 -685.01L86.25 -684.59L89.7 -684.14L93.15 -683.68L96.6 -683.2L100.05 -682.71L103.5 -682.19L106.95 -681.66L110.4 -681.11L113.85 -680.54L117.3 -679.96L120.75 -679.35L124.2 -678.73L127.65 -678.09L131.1 -677.43L134.55 -676.75L138 -676.06L141.45 -675.35L144.9 -674.61L148.35 -673.86L151.8 -673.09L155.25 -672.31L158.7 -671.5L162.15 -670.68L165.6 -669.83L169.05 -668.97L172.5 -668.09L175.95 -667.19L179.4 -666.27L182.85 -665.33L186.3 -664.37L189.75 -663.4L193.2 -662.4L196.65 -661.38L200.1 -660.35L203.55 -659.29L207 -658.22L210.45 -657.12L213.9 -656.01L217.35 -654.87L220.8 -653.72L224.25 -652.54L227.7 -651.35L231.15 -650.13L234.6 -648.89L238.05 -647.64L241.5 -646.36L244.95 -645.06L248.4 -643.74L251.85 -642.4L255.3 -641.03L258.75 -639.65L262.2 -638.24L265.65 -636.81L269.1 -635.36L272.55 -633.89L276 -632.4L279.45 -630.88L282.9 -629.34L286.35 -627.78L289.8 -626.19L293.25 -624.58L296.7 -622.95L300.15 -621.3L303.6 -619.62L307.05 -617.92L310.5 -616.19L313.95 -614.44L317.4 -612.66L320.85 -610.86L324.3 -609.04L327.75 -607.19L331.2 -605.32L334.65 -603.41L338.1 -601.49L341.55 -599.54L345 -597.56L348.45 -595.55L351.9 -593.52L355.35 -591.46L358.8 -589.37L362.25 -587.26L365.7 -585.12L369.15 -582.95L372.6 -580.75L376.05 -578.52L379.5 -576.26L382.95 -573.98L386.4 -571.66L389.85 -569.31L393.3 -566.93L396.75 -564.53L400.2 -562.09L403.65 -559.61L407.1 -557.11L410.55 -554.57L414 -552L417.45 -549.4L420.9 -546.76L424.35 -544.08L427.8 -541.38L431.25 -538.63L434.7 -535.85L438.15 -533.03L441.6 -530.18L445.05 -527.29L448.5 -524.35L451.95 -521.38L455.4 -518.37L458.85 -515.32L462.3 -512.23L465.75 -509.09L469.2 -505.92L472.65 -502.69L476.1 -499.43L479.55 -496.12L483 -492.76L486.45 -489.35L489.9 -485.9L493.35 -482.4L496.8 -478.84L500.25 -475.24L503.7 -471.58L507.15 -467.87L510.6 -464.1L514.05 -460.27L517.5 -456.39L520.95 -452.45L524.4 -448.45L527.85 -444.38L531.3 -440.25L534.75 -436.05L538.2 -431.79L541.65 -427.45L545.1 -423.04L548.55 -418.56L552 -414L555.45 -409.36L558.9 -404.64L562.35 -399.83L565.8 -394.93L569.25 -389.94L572.7 -384.86L576.15 -379.67L579.6 -374.38L583.05 -368.99L586.5 -363.48L589.95 -357.85L593.4 -352.1L596.85 -346.22L600.3 -340.21L603.75 -334.04L607.2 -327.73L610.65 -321.26L614.1 -314.61L617.55 -307.79L621 -300.76L624.45 -293.53L627.9 -286.08L631.35 -278.38L634.8 -270.42L638.25 -262.18L641.7 -253.62L645.15 -244.71L648.6 -235.41L652.05 -225.68L655.5 -215.45L658.95 -204.66L662.4 -193.2L665.85 -180.95L669.3 -167.74L672.75 -153.32L676.2 -137.31L679.65 -119.06L683.1 -97.34L686.55 -68.91L690 0M0 -720L3.6 -719.99L7.2 -719.96L10.8 -719.92L14.4 -719.86L18 -719.77L21.6 -719.68L25.2 -719.56L28.8 -719.42L32.4 -719.27L36 -719.1L39.6 -718.91L43.2 -718.7L46.8 -718.48L50.4 -718.23L54 -717.97L57.6 -717.69L61.2 -717.39L64.8 -717.08L68.4 -716.74L72 -716.39L75.6 -716.02L79.2 -715.63L82.8 -715.22L86.4 -714.8L90 -714.35L93.6 -713.89L97.2 -713.41L100.8 -712.91L104.4 -712.39L108 -711.85L111.6 -711.3L115.2 -710.72L118.8 -710.13L122.4 -709.52L126 -708.89L129.6 -708.24L133.2 -707.57L136.8 -706.88L140.4 -706.18L144 -705.45L147.6 -704.71L151.2 -703.94L154.8 -703.16L158.4 -702.36L162 -701.54L165.6 -700.7L169.2 -699.84L172.8 -698.96L176.4 -698.06L180 -697.14L183.6 -696.2L187.2 -695.24L190.8 -694.26L194.4 -693.26L198 -692.24L201.6 -691.2L205.2 -690.14L208.8 -689.06L212.4 -687.96L216 -686.84L219.6 -685.69L223.2 -684.53L226.8 -683.35L230.4 -682.14L234 -680.91L237.6 -679.67L241.2 -678.4L244.8 -677.11L248.4 -675.79L252 -674.46L255.6 -673.1L259.2 -671.73L262.8 -670.33L266.4 -668.9L270 -667.46L273.6 -665.99L277.2 -664.5L280.8 -662.99L284.4 -661.45L288 -659.89L291.6 -658.31L295.2 -656.7L298.8 -655.07L302.4 -653.42L306 -651.74L309.6 -650.04L313.2 -648.31L316.8 -646.56L320.4 -644.78L324 -642.98L327.6 -641.15L331.2 -639.3L334.8 -637.42L338.4 -635.52L342 -633.59L345.6 -631.63L349.2 -629.65L352.8 -627.64L356.4 -625.6L360 -623.54L363.6 -621.45L367.2 -619.33L370.8 -617.18L374.4 -615L378 -612.79L381.6 -610.56L385.2 -608.29L388.8 -606L392.4 -603.67L396 -601.32L399.6 -598.93L403.2 -596.51L406.8 -594.07L410.4 -591.58L414 -589.07L417.6 -586.52L421.2 -583.94L424.8 -581.33L428.4 -578.68L432 -576L435.6 -573.28L439.2 -570.53L442.8 -567.74L446.4 -564.91L450 -562.05L453.6 -559.15L457.2 -556.21L460.8 -553.23L464.4 -550.21L468 -547.15L471.6 -544.05L475.2 -540.91L478.8 -537.73L482.4 -534.5L486 -531.23L489.6 -527.91L493.2 -524.55L496.8 -521.14L500.4 -517.69L504 -514.18L507.6 -510.63L511.2 -507.03L514.8 -503.37L518.4 -499.66L522 -495.9L525.6 -492.08L529.2 -488.21L532.8 -484.28L536.4 -480.29L540 -476.24L543.6 -472.12L547.2 -467.94L550.8 -463.7L554.4 -459.39L558 -455.01L561.6 -450.56L565.2 -446.04L568.8 -441.44L572.4 -436.76L576 -432L579.6 -427.16L583.2 -422.23L586.8 -417.21L590.4 -412.1L594 -406.9L597.6 -401.59L601.2 -396.18L604.8 -390.66L608.4 -385.03L612 -379.28L615.6 -373.41L619.2 -367.41L622.8 -361.28L626.4 -355L630 -348.57L633.6 -341.98L637.2 -335.23L640.8 -328.29L644.4 -321.17L648 -313.84L651.6 -306.3L655.2 -298.52L658.8 -290.49L662.4 -282.18L666 -273.58L669.6 -264.64L673.2 -255.35L676.8 -245.65L680.4 -235.49L684 -224.82L687.6 -213.56L691.2 -201.6L694.8 -188.82L698.4 -175.04L702 -159.99L705.6 -143.28L709.2 -124.24L712.8 -101.57L716.4 -71.91L720 0M0 -750L3.75 -749.99L7.5 -749.96L11.25 -749.92L15 -749.85L18.75 -749.77L22.5 -749.66L26.25 -749.54L30 -749.4L33.75 -749.24L37.5 -749.06L41.25 -748.86L45 -748.65L48.75 -748.41L52.5 -748.16L56.25 -747.89L60 -747.6L63.75 -747.29L67.5 -746.96L71.25 -746.61L75 -746.24L78.75 -745.85L82.5 -745.45L86.25 -745.02L90 -744.58L93.75 -744.12L97.5 -743.64L101.25 -743.13L105 -742.61L108.75 -742.07L112.5 -741.51L116.25 -740.94L120 -740.34L123.75 -739.72L127.5 -739.08L131.25 -738.43L135 -737.75L138.75 -737.05L142.5 -736.34L146.25 -735.6L150 -734.85L153.75 -734.07L157.5 -733.28L161.25 -732.46L165 -731.62L168.75 -730.77L172.5 -729.89L176.25 -729L180 -728.08L183.75 -727.14L187.5 -726.18L191.25 -725.21L195 -724.21L198.75 -723.19L202.5 -722.15L206.25 -721.08L210 -720L213.75 -718.9L217.5 -717.77L221.25 -716.62L225 -715.45L228.75 -714.26L232.5 -713.05L236.25 -711.82L240 -710.56L243.75 -709.29L247.5 -707.99L251.25 -706.66L255 -705.32L258.75 -703.95L262.5 -702.56L266.25 -701.15L270 -699.71L273.75 -698.26L277.5 -696.77L281.25 -695.27L285 -693.74L288.75 -692.19L292.5 -690.61L296.25 -689.01L300 -687.39L303.75 -685.74L307.5 -684.06L311.25 -682.37L315 -680.64L318.75 -678.9L322.5 -677.12L326.25 -675.32L330 -673.5L333.75 -671.65L337.5 -669.77L341.25 -667.87L345 -665.94L348.75 -663.98L352.5 -662L356.25 -659.99L360 -657.95L363.75 -655.89L367.5 -653.79L371.25 -651.67L375 -649.52L378.75 -647.34L382.5 -645.13L386.25 -642.89L390 -640.62L393.75 -638.33L397.5 -636L401.25 -633.64L405 -631.25L408.75 -628.83L412.5 -626.37L416.25 -623.89L420 -621.37L423.75 -618.82L427.5 -616.23L431.25 -613.62L435 -610.96L438.75 -608.27L442.5 -605.55L446.25 -602.79L450 -600L453.75 -597.17L457.5 -594.3L461.25 -591.4L465 -588.45L468.75 -585.47L472.5 -582.45L476.25 -579.38L480 -576.28L483.75 -573.14L487.5 -569.95L491.25 -566.72L495 -563.45L498.75 -560.13L502.5 -556.77L506.25 -553.36L510 -549.91L513.75 -546.41L517.5 -542.86L521.25 -539.26L525 -535.61L528.75 -531.91L532.5 -528.15L536.25 -524.34L540 -520.48L543.75 -516.56L547.5 -512.59L551.25 -508.55L555 -504.46L558.75 -500.3L562.5 -496.08L566.25 -491.79L570 -487.44L573.75 -483.02L577.5 -478.53L581.25 -473.97L585 -469.33L588.75 -464.62L592.5 -459.83L596.25 -454.96L600 -450L603.75 -444.96L607.5 -439.82L611.25 -434.6L615 -429.27L618.75 -423.85L622.5 -418.32L626.25 -412.69L630 -406.94L633.75 -401.07L637.5 -395.09L641.25 -388.97L645 -382.72L648.75 -376.33L652.5 -369.79L656.25 -363.09L660 -356.23L663.75 -349.19L667.5 -341.97L671.25 -334.55L675 -326.92L678.75 -319.06L682.5 -310.96L686.25 -302.59L690 -293.94L693.75 -284.98L697.5 -275.67L701.25 -265.99L705 -255.88L708.75 -245.3L712.5 -234.19L716.25 -222.45L720 -210L723.75 -196.69L727.5 -182.33L731.25 -166.65L735 -149.25L738.75 -129.42L742.5 -105.8L746.25 -74.91L750 0"/>
<path class="dcb" d="M0 -600L3 -599.99L6 -599.97L9 -599.93L12 -599.88L15 -599.81L18 -599.73L21 -599.63L24 -599.52L27 -599.39L30 -599.25L33 -599.09L36 -598.92L39 -598.73L42 -598.53L45 -598.31L48 -598.08L51 -597.83L54 -597.57L57 -597.29L60 -596.99L63 -596.68L66 -596.36L69 -596.02L72 -595.66L75 -595.29L78 -594.91L81 -594.51L84 -594.09L87 -593.66L90 -593.21L93 -592.75L96 -592.27L99 -591.78L102 -591.27L105 -590.74L108 -590.2L111 -589.64L114 -589.07L117 -588.48L120 -587.88L123 -587.26L126 -586.62L129 -585.97L132 -585.3L135 -584.62L138 -583.91L141 -583.2L144 -582.46L147 -581.71L150 -580.95L153 -580.16L156 -579.37L159 -578.55L162 -577.72L165 -576.87L168 -576L171 -575.12L174 -574.22L177 -573.3L180 -572.36L183 -571.41L186 -570.44L189 -569.46L192 -568.45L195 -567.43L198 -566.39L201 -565.33L204 -564.26L207 -563.16L210 -562.05L213 -560.92L216 -559.77L219 -558.6L222 -557.42L225 -556.21L228 -554.99L231 -553.75L234 -552.49L237 -551.21L240 -549.91L243 -548.59L246 -547.25L249 -545.89L252 -544.51L255 -543.12L258 -541.7L261 -540.26L264 -538.8L267 -537.32L270 -535.82L273 -534.29L276 -532.75L279 -531.19L282 -529.6L285 -527.99L288 -526.36L291 -524.71L294 -523.03L297 -521.34L300 -519.62L303 -517.87L306 -516.1L309 -514.31L312 -512.5L315 -510.66L318 -508.8L321 -506.91L324 -505L327 -503.06L330 -501.1L333 -499.11L336 -497.1L339 -495.05L342 -492.99L345 -490.89L348 -488.77L351 -486.62L354 -484.44L357 -482.24L360 -480L363 -477.74L366 -475.44L369 -473.12L372 -470.76L375 -468.37L378 -465.96L381 -463.51L384 -461.02L387 -458.51L390 -455.96L393 -453.38L396 -450.76L399 -448.11L402 -445.42L405 -442.69L408 -439.93L411 -437.13L414 -434.29L417 -431.41L420 -428.49L423 -425.52L426 -422.52L429 -419.47L432 -416.38L435 -413.25L438 -410.07L441 -406.84L444 -403.56L447 -400.24L450 -396.86L453 -393.43L456 -389.95L459 -386.42L462 -382.83L465 -379.18L468 -375.47L471 -371.7L474 -367.86L477 -363.97L480 -360L483 -355.96L486 -351.86L489 -347.68L492 -343.42L495 -339.08L498 -334.66L501 -330.15L504 -325.55L507 -320.86L510 -316.07L513 -311.18L516 -306.18L519 -301.06L522 -295.83L525 -290.47L528 -284.98L531 -279.35L534 -273.58L537 -267.64L540 -261.53L543 -255.25L546 -248.76L549 -242.07L552 -235.15L555 -227.98L558 -220.54L561 -212.79L564 -204.7L567 -196.24L570 -187.35L573 -177.96L576 -168L579 -157.35L582 -145.86L585 -133.32L588 -119.4L591 -103.53L594 -84.64L597 -59.92L600 0"/>
<path class="arc" d="M0 -990L4.95 -989.99L9.9 -989.95L14.85 -989.89L19.8 -989.8L24.75 -989.69L29.7 -989.55L34.65 -989.39L39.6 -989.21L44.55 -989L49.5 -988.76L54.45 -988.5L59.4 -988.22L64.35 -987.91L69.3 -987.57L74.25 -987.21L79.2 -986.83L84.15 -986.42L89.1 -985.98L94.05 -985.52L99 -985.04L103.95 -984.53L108.9 -983.99L113.85 -983.43L118.8 -982.85L123.75 -982.24L128.7 -981.6L133.65 -980.94L138.6 -980.25L143.55 -979.54L148.5 -978.8L153.45 -978.04L158.4 -977.25L163.35 -976.43L168.3 -975.59L173.25 -974.72L178.2 -973.83L183.15 -972.91L188.1 -971.97L193.05 -971L198 -970L202.95 -968.97L207.9 -967.92L212.85 -966.85L217.8 -965.74L222.75 -964.62L227.7 -963.46L232.65 -962.28L237.6 -961.07L242.55 -959.83L247.5 -958.56L252.45 -957.27L257.4 -955.95L262.35 -954.61L267.3 -953.23L272.25 -951.83L277.2 -950.4L282.15 -948.94L287.1 -947.46L292.05 -945.94L297 -944.4L301.95 -942.83L306.9 -941.23L311.85 -939.6L316.8 -937.94L321.75 -936.26L326.7 -934.54L331.65 -932.8L336.6 -931.02L341.55 -929.22L346.5 -927.38L351.45 -925.52L356.4 -923.62L361.35 -921.7L366.3 -919.74L371.25 -917.75L376.2 -915.74L381.15 -913.69L386.1 -911.61L391.05 -909.49L396 -907.35L400.95 -905.17L405.9 -902.96L410.85 -900.72L415.8 -898.45L420.75 -896.14L425.7 -893.8L430.65 -891.43L435.6 -889.02L440.55 -886.58L445.5 -884.1L450.45 -881.59L455.4 -879.04L460.35 -876.46L465.3 -873.84L470.25 -871.19L475.2 -868.5L480.15 -865.77L485.1 -863.01L490.05 -860.2L495 -857.37L499.95 -854.49L504.9 -851.57L509.85 -848.62L514.8 -845.62L519.75 -842.59L524.7 -839.52L529.65 -836.4L534.6 -833.25L539.55 -830.05L544.5 -826.81L549.45 -823.53L554.4 -820.21L559.35 -816.84L564.3 -813.43L569.25 -809.97L574.2 -806.47L579.15 -802.92L584.1 -799.33L589.05 -795.69L594 -792L598.95 -788.26L603.9 -784.48L608.85 -780.64L613.8 -776.76L618.75 -772.82L623.7 -768.83L628.65 -764.79L633.6 -760.69L638.55 -756.54L643.5 -752.33L648.45 -748.07L653.4 -743.75L658.35 -739.37L663.3 -734.94L668.25 -730.44L673.2 -725.88L678.15 -721.26L683.1 -716.57L688.05 -711.82L693 -707L697.95 -702.12L702.9 -697.16L707.85 -692.13L712.8 -687.03L717.75 -681.86L722.7 -676.61L727.65 -671.29L732.6 -665.88L737.55 -660.39L742.5 -654.82L747.45 -649.17L752.4 -643.42L757.35 -637.59L762.3 -631.66L767.25 -625.64L772.2 -619.52L777.15 -613.3L782.1 -606.98L787.05 -600.54L792 -594L796.95 -587.34L801.9 -580.57L806.85 -573.67L811.8 -566.64L816.75 -559.48L821.7 -552.19L826.65 -544.75L831.6 -537.16L836.55 -529.42L841.5 -521.51L846.45 -513.44L851.4 -505.19L856.35 -496.75L861.3 -488.12L866.25 -479.28L871.2 -470.22L876.15 -460.94L881.1 -451.4L886.05 -441.61L891 -431.53L895.95 -421.16L900.9 -410.46L905.85 -399.42L910.8 -388L915.75 -376.17L920.7 -363.88L925.65 -351.1L930.6 -337.76L935.55 -323.8L940.5 -309.13L945.45 -293.64L950.4 -277.2L955.35 -259.63L960.3 -240.67L965.25 -219.98L970.2 -197.01L975.15 -170.83L980.1 -139.66L985.05 -98.88L990 0"/>
<path class="tk" d="M99 -985.04L96.6 -961.16M198 -970L193.2 -946.48M297 -944.4L289.8 -921.51M396 -907.35L386.4 -885.35M495 -857.37L483 -836.58M594 -792L579.6 -772.8M693 -707L676.2 -689.86M792 -594L772.8 -579.6M891 -431.53L869.4 -421.07M940.5 -309.13L917.7 -301.63M980.1 -139.66L956.34 -136.27M49.5 -988.76L48.9 -976.78M148.5 -978.8L146.7 -966.93M247.5 -958.56L244.5 -946.94M346.5 -927.38L342.3 -916.14M445.5 -884.1L440.1 -873.38M544.5 -826.81L537.9 -816.79M643.5 -752.33L635.7 -743.22M742.5 -654.82L733.5 -646.89M841.5 -521.51L831.3 -515.19M900.9 -410.46L889.98 -405.49M910.8 -388L899.76 -383.3M920.7 -363.88L909.54 -359.47M930.6 -337.76L919.32 -333.67M950.4 -277.2L938.88 -273.84M960.3 -240.67L948.66 -237.76M970.2 -197.01L958.44 -194.62M0 0L0 -24M0 0L24 0M150 0L150 -24M0 -150L24 -150M300 0L300 -24M0 -300L24 -300M450 0L450 -24M0 -450L24 -450M600 0L600 -24M0 -600L24 -600M750 0L750 -24M0 -750L24 -750M900 0L900 -24M0 -900L24 -900"/>
<path class="ax" d="M0.3 -990L0.3 -0.9L990 -0.9"/>
<circle cx="600.56" cy="-1.7" r="8.1"/>
<circle cx="641.95" cy="-101.35" r="9.1" fill="#556B2F"/>
<circle cx="637.15" cy="-160.65" r="9.1" fill="#FF8C00"/>
<circle cx="636.65" cy="-161.15" r="9.1" fill="#8B2323"/>
<circle cx="668.45" cy="-175.65" r="9.1" fill="#FFC0CB"/>
<circle cx="668.45" cy="-178.95" r="9.1" fill="#FF4500"/>
<circle cx="627.65" cy="-123.35" r="9.1" fill="#0000FF"/>
<circle cx="589.95" cy="-130.55" r="9.1" fill="#D2691E"/>
<circle cx="620.15" cy="-103.15" r="9.1" fill="#53868B"/>
<circle cx="587.75" cy="-95.35" r="9.1" fill="#6495ED"/>
<circle cx="612.65" cy="-177.15" r="9.1" fill="#696969"/>
<circle cx="600.15" cy="-110.65" r="9.1" fill="#CDAD00"/>
<circle cx="600.35" cy="-89.35" r="9.1" fill="#838B83"/>
<circle cx="631.15" cy="-176.95" r="9.1" fill="#B0C4DE"/>
<circle cx="640.15" cy="-148.65" r="9.1" fill="#AFEEEE"/>
<circle cx="633.65" cy="-141.45" r="9.1" fill="#00CED1"/>
<circle cx="602.25" cy="-86.75" r="9.1" fill="#48D1CC"/>
<circle cx="597.45" cy="-121.15" r="9.1" fill="#2E8B57"/>
<text transform="translate(603.95 -130.65)" text-anchor="middle" fill="#2E8B57" stroke="#2E8B57" style="font-size:34.5px">17</text>
<text transform="translate(608.75 -96.25)" text-anchor="middle" fill="#48D1CC" stroke="#48D1CC" style="font-size:34.5px">16</text>
<text transform="translate(640.15 -150.95)" text-anchor="middle" fill="#00CED1" stroke="#00CED1" style="font-size:34.5px">15</text>
<text transform="translate(646.65 -158.15)" text-anchor="middle" fill="#AFEEEE" stroke="#AFEEEE" style="font-size:34.5px">14</text>
<text transform="translate(637.65 -186.45)" text-anchor="middle" fill="#B0C4DE" stroke="#B0C4DE" style="font-size:34.5px">13</text>
<text transform="translate(606.85 -98.85)" text-anchor="middle" fill="#838B83" stroke="#838B83" style="font-size:34.5px">12</text>
<text transform="translate(606.65 -120.15)" text-anchor="middle" fill="#CDAD00" stroke="#CDAD00" style="font-size:34.5px">11</text>
<text transform="translate(619.15 -186.65)" text-anchor="middle" fill="#696969" stroke="#696969" style="font-size:34.5px">10</text>
<text transform="translate(594.25 -104.85)" text-anchor="middle" fill="#6495ED" stroke="#6495ED" style="font-size:34.5px">9</text>
<text transform="translate(626.65 -112.65)" text-anchor="middle" fill="#53868B" stroke="#53868B" style="font-size:34.5px">8</text>
<text transform="translate(596.45 -140.05)" text-anchor="middle" fill="#D2691E" stroke="#D2691E" style="font-size:34.5px">7</text>
<text transform="translate(634.15 -132.85)" text-anchor="middle" fill="#0000FF" stroke="#0000FF" style="font-size:34.5px">6</text>
<text transform="translate(674.95 -188.45)" text-anchor="middle" fill="#FF4500" stroke="#FF4500" style="font-size:34.5px">5</text>
<text transform="translate(674.95 -185.15)" text-anchor="middle" fill="#FFC0CB" stroke="#FFC0CB" style="font-size:34.5px">4</text>
<text transform="translate(643.15 -170.65)" text-anchor="middle" fill="#8B2323" stroke="#8B2323" style="font-size:34.5px">3</text>
<text transform="translate(643.65 -170.15)" text-anchor="middle" fill="#FF8C00" stroke="#FF8C00" style="font-size:34.5px">2</text>
<text transform="translate(648.45 -110.85)" text-anchor="middle" fill="#556B2F" stroke="#556B2F" style="font-size:34.5px">1</text>
</g>
<g transform="translate(166.3 2383.4)">
<text transform="translate(525.2 -1091.4)" text-anchor="middle" style="font-size:50px">(C)</text>
<text transform="translate(-129 -524.7) rotate(-90)" text-anchor="middle">RMSL</text>
<text transform="translate(-27.3 13.1)" text-anchor="end">0.00</text>
<text transform="translate(-27.3 -136.9)" text-anchor="end">0.25</text>
<text transform="translate(-27.3 -286.9)" text-anchor="end">0.50</text>
<text transform="translate(-27.3 -436.9)" text-anchor="end">0.75</text>
<text transform="translate(-27.3 -586.9)" text-anchor="end">1.00</text>
<text transform="translate(-27.3 -736.9)" text-anchor="end">1.25</text>
<text transform="translate(-27.3 -886.9)" text-anchor="end">1.50</text>
<text transform="translate(150.6 55.8)" text-anchor="middle">0.25</text>
<text transform="translate(300.6 55.8)" text-anchor="middle">0.50</text>
<text transform="translate(450.6 55.8)" text-anchor="middle">0.75</text>
<text transform="translate(600.6 55.8)" text-anchor="middle">REF</text>
<text transform="translate(750.6 55.8)" text-anchor="middle">1.25</text>
<text transform="translate(900.6 55.8)" text-anchor="middle">1.50</text>
<text transform="translate(28.4 -826.6)" class="b">1<tspan dx="-2.2"> - ACCESS-ESM1-5</tspan></text>
<text transform="translate(28.4 -781.6)">2 - CanESM5</text>
<text transform="translate(28.4 -736.6)">3 - CanESM5-CanOE</text>
<text transform="translate(28.4 -691.6)">4 - CESM2</text>
<text transform="translate(28.4 -646.6)">5 - CESM2-WACCM</text>
<text transform="translate(28.4 -601.6)">6 - CNRM-ESM2-1</text>
<text transform="translate(28.4 -556.6)">7 - GFDL-CM4</text>
<text transform="translate(28.4 -511.6)">8 - GFDL-ESM4</text>
<text transform="translate(28.4 -466.6)" class="b">9 - IPSL-CM6A-LR</text>
<text transform="translate(28.4 -421.6)">10 - MIROC-ES2L</text>
<text transform="translate(28.4 -376.6)">11 - MPI-ESM1-2-LR</text>
<text transform="translate(28.4 -331.6)" class="b">12 - MPI-ESM1-2-HR</text>
<text transform="translate(28.4 -286.6)">13 - MRI-ESM2-0</text>
<text transform="translate(28.4 -241.6)">14 - NorESM2-LM</text>
<text transform="translate(28.4 -196.6)">15 - NorESM2-MM</text>
<text transform="translate(28.4 -151.6)" class="b">16 - UKESM1-0-LL</text>
<text transform="translate(28.4 -106.6)">17 - INM-CM4-8</text>
<text transform="translate(27.7 -999.4) rotate(-90)">0.0</text>
<text transform="translate(127.86 -996.21) rotate(-84.26)">0.1</text>
<text transform="translate(226.81 -976.16) rotate(-78.46)">0.2</text>
<text transform="translate(325.6 -949.66) rotate(-72.54)">0.3</text>
<text transform="translate(426.49 -910.96) rotate(-66.42)">0.4</text>
<text transform="translate(525.49 -858.58) rotate(-60)">0.5</text>
<text transform="translate(623.52 -789.86) rotate(-53.13)">0.6</text>
<text transform="translate(720.78 -701.48) rotate(-45.57)">0.7</text>
<text transform="translate(817.26 -585.32) rotate(-36.87)">0.8</text>
<text transform="translate(912.23 -419.81) rotate(-25.84)">0.9</text>
<text transform="translate(958.69 -296.05) rotate(-18.19)">0.95</text>
<text transform="translate(994.39 -125.83) rotate(-8.11)">0.99</text>
<text transform="translate(997 12.7)">1.0</text>
<text transform="translate(842.4 -763.8) rotate(45)" text-anchor="middle" dy="13.6">Similarity (VSC)</text>
<path class="gam" d="M750 0A150 150 0 0 0 450 0M900 0A300 300 0 0 0 300 0M948 -285.3A450 450 0 0 0 150 0M816.75 -559.48A600 600 0 0 0 0 0"/>
<path class="rad" d="M0 0L841.5 -521.51M0 0L891 -431.53M0 0L910.8 -388M0 0L930.6 -337.76M0 0L980.1 -139.66"/>
<path class="dc" d="M0 -630L3.15 -629.99L6.3 -629.97L9.45 -629.93L12.6 -629.87L15.75 -629.8L18.9 -629.72L22.05 -629.61L25.2 -629.5L28.35 -629.36L31.5 -629.21L34.65 -629.05L37.8 -628.86L40.95 -628.67L44.1 -628.45L47.25 -628.23L50.4 -627.98L53.55 -627.72L56.7 -627.44L59.85 -627.15L63 -626.84L66.15 -626.52L69.3 -626.18L72.45 -625.82L75.6 -625.45L78.75 -625.06L81.9 -624.65L85.05 -624.23L88.2 -623.8L91.35 -623.34L94.5 -622.87L97.65 -622.39L100.8 -621.88L103.95 -621.36L107.1 -620.83L110.25 -620.28L113.4 -619.71L116.55 -619.13L119.7 -618.52L122.85 -617.91L126 -617.27L129.15 -616.62L132.3 -615.95L135.45 -615.27L138.6 -614.56L141.75 -613.85L144.9 -613.11L148.05 -612.36L151.2 -611.59L154.35 -610.8L157.5 -609.99L160.65 -609.17L163.8 -608.33L166.95 -607.48L170.1 -606.6L173.25 -605.71L176.4 -604.8L179.55 -603.87L182.7 -602.93L185.85 -601.96L189 -600.98L192.15 -599.98L195.3 -598.96L198.45 -597.93L201.6 -596.87L204.75 -595.8L207.9 -594.71L211.05 -593.6L214.2 -592.47L217.35 -591.32L220.5 -590.15L223.65 -588.97L226.8 -587.76L229.95 -586.53L233.1 -585.29L236.25 -584.03L239.4 -582.74L242.55 -581.44L245.7 -580.11L248.85 -578.77L252 -577.4L255.15 -576.02L258.3 -574.61L261.45 -573.19L264.6 -571.74L267.75 -570.27L270.9 -568.78L274.05 -567.27L277.2 -565.74L280.35 -564.18L283.5 -562.61L286.65 -561.01L289.8 -559.39L292.95 -557.75L296.1 -556.08L299.25 -554.39L302.4 -552.68L305.55 -550.94L308.7 -549.19L311.85 -547.4L315 -545.6L318.15 -543.77L321.3 -541.91L324.45 -540.03L327.6 -538.12L330.75 -536.19L333.9 -534.24L337.05 -532.26L340.2 -530.25L343.35 -528.21L346.5 -526.15L349.65 -524.07L352.8 -521.95L355.95 -519.81L359.1 -517.64L362.25 -515.44L365.4 -513.21L368.55 -510.95L371.7 -508.66L374.85 -506.35L378 -504L381.15 -501.62L384.3 -499.21L387.45 -496.77L390.6 -494.3L393.75 -491.79L396.9 -489.25L400.05 -486.68L403.2 -484.08L406.35 -481.44L409.5 -478.76L412.65 -476.05L415.8 -473.3L418.95 -470.51L422.1 -467.69L425.25 -464.83L428.4 -461.92L431.55 -458.98L434.7 -456L437.85 -452.98L441 -449.91L444.15 -446.8L447.3 -443.65L450.45 -440.45L453.6 -437.2L456.75 -433.91L459.9 -430.57L463.05 -427.18L466.2 -423.74L469.35 -420.25L472.5 -416.71L475.65 -413.11L478.8 -409.45L481.95 -405.74L485.1 -401.97L488.25 -398.14L491.4 -394.24L494.55 -390.28L497.7 -386.26L500.85 -382.16L504 -378L507.15 -373.76L510.3 -369.45L513.45 -365.06L516.6 -360.59L519.75 -356.03L522.9 -351.39L526.05 -346.66L529.2 -341.83L532.35 -336.9L535.5 -331.87L538.65 -326.74L541.8 -321.49L544.95 -316.12L548.1 -310.62L551.25 -305L554.4 -299.23L557.55 -293.32L560.7 -287.26L563.85 -281.02L567 -274.61L570.15 -268.01L573.3 -261.2L576.45 -254.18L579.6 -246.91L582.75 -239.38L585.9 -231.56L589.05 -223.43L592.2 -214.94L595.35 -206.05L598.5 -196.72L601.65 -186.86L604.8 -176.4L607.95 -165.22L611.1 -153.16L614.25 -139.99L617.4 -125.37L620.55 -108.71L623.7 -88.87L626.85 -62.92L630 0M0 -660L3.3 -659.99L6.6 -659.97L9.9 -659.93L13.2 -659.87L16.5 -659.79L19.8 -659.7L23.1 -659.6L26.4 -659.47L29.7 -659.33L33 -659.17L36.3 -659L39.6 -658.81L42.9 -658.6L46.2 -658.38L49.5 -658.14L52.8 -657.88L56.1 -657.61L59.4 -657.32L62.7 -657.01L66 -656.69L69.3 -656.35L72.6 -655.99L75.9 -655.62L79.2 -655.23L82.5 -654.82L85.8 -654.4L89.1 -653.96L92.4 -653.5L95.7 -653.02L99 -652.53L102.3 -652.02L105.6 -651.5L108.9 -650.95L112.2 -650.39L115.5 -649.82L118.8 -649.22L122.1 -648.61L125.4 -647.98L128.7 -647.33L132 -646.67L135.3 -645.98L138.6 -645.28L141.9 -644.57L145.2 -643.83L148.5 -643.08L151.8 -642.31L155.1 -641.52L158.4 -640.71L161.7 -639.89L165 -639.04L168.3 -638.18L171.6 -637.3L174.9 -636.4L178.2 -635.49L181.5 -634.55L184.8 -633.6L188.1 -632.63L191.4 -631.64L194.7 -630.63L198 -629.6L201.3 -628.55L204.6 -627.49L207.9 -626.4L211.2 -625.3L214.5 -624.17L217.8 -623.03L221.1 -621.86L224.4 -620.68L227.7 -619.48L231 -618.25L234.3 -617.01L237.6 -615.75L240.9 -614.46L244.2 -613.16L247.5 -611.84L250.8 -610.49L254.1 -609.12L257.4 -607.74L260.7 -606.33L264 -604.9L267.3 -603.45L270.6 -601.98L273.9 -600.48L277.2 -598.97L280.5 -597.43L283.8 -595.87L287.1 -594.28L290.4 -592.68L293.7 -591.05L297 -589.4L300.3 -587.72L303.6 -586.03L306.9 -584.31L310.2 -582.56L313.5 -580.79L316.8 -579L320.1 -577.18L323.4 -575.34L326.7 -573.47L330 -571.58L333.3 -569.66L336.6 -567.72L339.9 -565.75L343.2 -563.75L346.5 -561.73L349.8 -559.68L353.1 -557.6L356.4 -555.5L359.7 -553.37L363 -551.21L366.3 -549.02L369.6 -546.81L372.9 -544.56L376.2 -542.29L379.5 -539.98L382.8 -537.65L386.1 -535.28L389.4 -532.89L392.7 -530.46L396 -528L399.3 -525.51L402.6 -522.98L405.9 -520.43L409.2 -517.84L412.5 -515.21L415.8 -512.55L419.1 -509.86L422.4 -507.13L425.7 -504.36L429 -501.56L432.3 -498.72L435.6 -495.84L438.9 -492.92L442.2 -489.96L445.5 -486.96L448.8 -483.92L452.1 -480.84L455.4 -477.71L458.7 -474.55L462 -471.33L465.3 -468.08L468.6 -464.77L471.9 -461.42L475.2 -458.02L478.5 -454.57L481.8 -451.08L485.1 -447.52L488.4 -443.92L491.7 -440.26L495 -436.55L498.3 -432.78L501.6 -428.95L504.9 -425.06L508.2 -421.11L511.5 -417.09L514.8 -413.01L518.1 -408.87L521.4 -404.65L524.7 -400.36L528 -396L531.3 -391.56L534.6 -387.04L537.9 -382.44L541.2 -377.76L544.5 -372.99L547.8 -368.12L551.1 -363.16L554.4 -358.11L557.7 -352.95L561 -347.68L564.3 -342.29L567.6 -336.79L570.9 -331.17L574.2 -325.41L577.5 -319.52L580.8 -313.48L584.1 -307.29L587.4 -300.93L590.7 -294.4L594 -287.69L597.3 -280.77L600.6 -273.64L603.9 -266.28L607.2 -258.67L610.5 -250.78L613.8 -242.59L617.1 -234.07L620.4 -225.18L623.7 -215.87L627 -206.08L630.3 -195.76L633.6 -184.8L636.9 -173.08L640.2 -160.45L643.5 -146.66L646.8 -131.34L650.1 -113.89L653.4 -93.1L656.7 -65.92L660 0M0 -690L3.45 -689.99L6.9 -689.97L10.35 -689.92L13.8 -689.86L17.25 -689.78L20.7 -689.69L24.15 -689.58L27.6 -689.45L31.05 -689.3L34.5 -689.14L37.95 -688.96L41.4 -688.76L44.85 -688.54L48.3 -688.31L51.75 -688.06L55.2 -687.79L58.65 -687.5L62.1 -687.2L65.55 -686.88L69 -686.54L72.45 -686.19L75.9 -685.81L79.35 -685.42L82.8 -685.01L86.25 -684.59L89.7 -684.14L93.15 -683.68L96.6 -683.2L100.05 -682.71L103.5 -682.19L106.95 -681.66L110.4 -681.11L113.85 -680.54L117.3 -679.96L120.75 -679.35L124.2 -678.73L127.65 -678.09L131.1 -677.43L134.55 -676.75L138 -676.06L141.45 -675.35L144.9 -674.61L148.35 -673.86L151.8 -673.09L155.25 -672.31L158.7 -671.5L162.15 -670.68L165.6 -669.83L169.05 -668.97L172.5 -668.09L175.95 -667.19L179.4 -666.27L182.85 -665.33L186.3 -664.37L189.75 -663.4L193.2 -662.4L196.65 -661.38L200.1 -660.35L203.55 -659.29L207 -658.22L210.45 -657.12L213.9 -656.01L217.35 -654.87L220.8 -653.72L224.25 -652.54L227.7 -651.35L231.15 -650.13L234.6 -648.89L238.05 -647.64L241.5 -646.36L244.95 -645.06L248.4 -643.74L251.85 -642.4L255.3 -641.03L258.75 -639.65L262.2 -638.24L265.65 -636.81L269.1 -635.36L272.55 -633.89L276 -632.4L279.45 -630.88L282.9 -629.34L286.35 -627.78L289.8 -626.19L293.25 -624.58L296.7 -622.95L300.15 -621.3L303.6 -619.62L307.05 -617.92L310.5 -616.19L313.95 -614.44L317.4 -612.66L320.85 -610.86L324.3 -609.04L327.75 -607.19L331.2 -605.32L334.65 -603.41L338.1 -601.49L341.55 -599.54L345 -597.56L348.45 -595.55L351.9 -593.52L355.35 -591.46L358.8 -589.37L362.25 -587.26L365.7 -585.12L369.15 -582.95L372.6 -580.75L376.05 -578.52L379.5 -576.26L382.95 -573.98L386.4 -571.66L389.85 -569.31L393.3 -566.93L396.75 -564.53L400.2 -562.09L403.65 -559.61L407.1 -557.11L410.55 -554.57L414 -552L417.45 -549.4L420.9 -546.76L424.35 -544.08L427.8 -541.38L431.25 -538.63L434.7 -535.85L438.15 -533.03L441.6 -530.18L445.05 -527.29L448.5 -524.35L451.95 -521.38L455.4 -518.37L458.85 -515.32L462.3 -512.23L465.75 -509.09L469.2 -505.92L472.65 -502.69L476.1 -499.43L479.55 -496.12L483 -492.76L486.45 -489.35L489.9 -485.9L493.35 -482.4L496.8 -478.84L500.25 -475.24L503.7 -471.58L507.15 -467.87L510.6 -464.1L514.05 -460.27L517.5 -456.39L520.95 -452.45L524.4 -448.45L527.85 -444.38L531.3 -440.25L534.75 -436.05L538.2 -431.79L541.65 -427.45L545.1 -423.04L548.55 -418.56L552 -414L555.45 -409.36L558.9 -404.64L562.35 -399.83L565.8 -394.93L569.25 -389.94L572.7 -384.86L576.15 -379.67L579.6 -374.38L583.05 -368.99L586.5 -363.48L589.95 -357.85L593.4 -352.1L596.85 -346.22L600.3 -340.21L603.75 -334.04L607.2 -327.73L610.65 -321.26L614.1 -314.61L617.55 -307.79L621 -300.76L624.45 -293.53L627.9 -286.08L631.35 -278.38L634.8 -270.42L638.25 -262.18L641.7 -253.62L645.15 -244.71L648.6 -235.41L652.05 -225.68L655.5 -215.45L658.95 -204.66L662.4 -193.2L665.85 -180.95L669.3 -167.74L672.75 -153.32L676.2 -137.31L679.65 -119.06L683.1 -97.34L686.55 -68.91L690 0M0 -720L3.6 -719.99L7.2 -719.96L10.8 -719.92L14.4 -719.86L18 -719.77L21.6 -719.68L25.2 -719.56L28.8 -719.42L32.4 -719.27L36 -719.1L39.6 -718.91L43.2 -718.7L46.8 -718.48L50.4 -718.23L54 -717.97L57.6 -717.69L61.2 -717.39L64.8 -717.08L68.4 -716.74L72 -716.39L75.6 -716.02L79.2 -715.63L82.8 -715.22L86.4 -714.8L90 -714.35L93.6 -713.89L97.2 -713.41L100.8 -712.91L104.4 -712.39L108 -711.85L111.6 -711.3L115.2 -710.72L118.8 -710.13L122.4 -709.52L126 -708.89L129.6 -708.24L133.2 -707.57L136.8 -706.88L140.4 -706.18L144 -705.45L147.6 -704.71L151.2 -703.94L154.8 -703.16L158.4 -702.36L162 -701.54L165.6 -700.7L169.2 -699.84L172.8 -698.96L176.4 -698.06L180 -697.14L183.6 -696.2L187.2 -695.24L190.8 -694.26L194.4 -693.26L198 -692.24L201.6 -691.2L205.2 -690.14L208.8 -689.06L212.4 -687.96L216 -686.84L219.6 -685.69L223.2 -684.53L226.8 -683.35L230.4 -682.14L234 -680.91L237.6 -679.67L241.2 -678.4L244.8 -677.11L248.4 -675.79L252 -674.46L255.6 -673.1L259.2 -671.73L262.8 -670.33L266.4 -668.9L270 -667.46L273.6 -665.99L277.2 -664.5L280.8 -662.99L284.4 -661.45L288 -659.89L291.6 -658.31L295.2 -656.7L298.8 -655.07L302.4 -653.42L306 -651.74L309.6 -650.04L313.2 -648.31L316.8 -646.56L320.4 -644.78L324 -642.98L327.6 -641.15L331.2 -639.3L334.8 -637.42L338.4 -635.52L342 -633.59L345.6 -631.63L349.2 -629.65L352.8 -627.64L356.4 -625.6L360 -623.54L363.6 -621.45L367.2 -619.33L370.8 -617.18L374.4 -615L378 -612.79L381.6 -610.56L385.2 -608.29L388.8 -606L392.4 -603.67L396 -601.32L399.6 -598.93L403.2 -596.51L406.8 -594.07L410.4 -591.58L414 -589.07L417.6 -586.52L421.2 -583.94L424.8 -581.33L428.4 -578.68L432 -576L435.6 -573.28L439.2 -570.53L442.8 -567.74L446.4 -564.91L450 -562.05L453.6 -559.15L457.2 -556.21L460.8 -553.23L464.4 -550.21L468 -547.15L471.6 -544.05L475.2 -540.91L478.8 -537.73L482.4 -534.5L486 -531.23L489.6 -527.91L493.2 -524.55L496.8 -521.14L500.4 -517.69L504 -514.18L507.6 -510.63L511.2 -507.03L514.8 -503.37L518.4 -499.66L522 -495.9L525.6 -492.08L529.2 -488.21L532.8 -484.28L536.4 -480.29L540 -476.24L543.6 -472.12L547.2 -467.94L550.8 -463.7L554.4 -459.39L558 -455.01L561.6 -450.56L565.2 -446.04L568.8 -441.44L572.4 -436.76L576 -432L579.6 -427.16L583.2 -422.23L586.8 -417.21L590.4 -412.1L594 -406.9L597.6 -401.59L601.2 -396.18L604.8 -390.66L608.4 -385.03L612 -379.28L615.6 -373.41L619.2 -367.41L622.8 -361.28L626.4 -355L630 -348.57L633.6 -341.98L637.2 -335.23L640.8 -328.29L644.4 -321.17L648 -313.84L651.6 -306.3L655.2 -298.52L658.8 -290.49L662.4 -282.18L666 -273.58L669.6 -264.64L673.2 -255.35L676.8 -245.65L680.4 -235.49L684 -224.82L687.6 -213.56L691.2 -201.6L694.8 -188.82L698.4 -175.04L702 -159.99L705.6 -143.28L709.2 -124.24L712.8 -101.57L716.4 -71.91L720 0M0 -750L3.75 -749.99L7.5 -749.96L11.25 -749.92L15 -749.85L18.75 -749.77L22.5 -749.66L26.25 -749.54L30 -749.4L33.75 -749.24L37.5 -749.06L41.25 -748.86L45 -748.65L48.75 -748.41L52.5 -748.16L56.25 -747.89L60 -747.6L63.75 -747.29L67.5 -746.96L71.25 -746.61L75 -746.24L78.75 -745.85L82.5 -745.45L86.25 -745.02L90 -744.58L93.75 -744.12L97.5 -743.64L101.25 -743.13L105 -742.61L108.75 -742.07L112.5 -741.51L116.25 -740.94L120 -740.34L123.75 -739.72L127.5 -739.08L131.25 -738.43L135 -737.75L138.75 -737.05L142.5 -736.34L146.25 -735.6L150 -734.85L153.75 -734.07L157.5 -733.28L161.25 -732.46L165 -731.62L168.75 -730.77L172.5 -729.89L176.25 -729L180 -728.08L183.75 -727.14L187.5 -726.18L191.25 -725.21L195 -724.21L198.75 -723.19L202.5 -722.15L206.25 -721.08L210 -720L213.75 -718.9L217.5 -717.77L221.25 -716.62L225 -715.45L228.75 -714.26L232.5 -713.05L236.25 -711.82L240 -710.56L243.75 -709.29L247.5 -707.99L251.25 -706.66L255 -705.32L258.75 -703.95L262.5 -702.56L266.25 -701.15L270 -699.71L273.75 -698.26L277.5 -696.77L281.25 -695.27L285 -693.74L288.75 -692.19L292.5 -690.61L296.25 -689.01L300 -687.39L303.75 -685.74L307.5 -684.06L311.25 -682.37L315 -680.64L318.75 -678.9L322.5 -677.12L326.25 -675.32L330 -673.5L333.75 -671.65L337.5 -669.77L341.25 -667.87L345 -665.94L348.75 -663.98L352.5 -662L356.25 -659.99L360 -657.95L363.75 -655.89L367.5 -653.79L371.25 -651.67L375 -649.52L378.75 -647.34L382.5 -645.13L386.25 -642.89L390 -640.62L393.75 -638.33L397.5 -636L401.25 -633.64L405 -631.25L408.75 -628.83L412.5 -626.37L416.25 -623.89L420 -621.37L423.75 -618.82L427.5 -616.23L431.25 -613.62L435 -610.96L438.75 -608.27L442.5 -605.55L446.25 -602.79L450 -600L453.75 -597.17L457.5 -594.3L461.25 -591.4L465 -588.45L468.75 -585.47L472.5 -582.45L476.25 -579.38L480 -576.28L483.75 -573.14L487.5 -569.95L491.25 -566.72L495 -563.45L498.75 -560.13L502.5 -556.77L506.25 -553.36L510 -549.91L513.75 -546.41L517.5 -542.86L521.25 -539.26L525 -535.61L528.75 -531.91L532.5 -528.15L536.25 -524.34L540 -520.48L543.75 -516.56L547.5 -512.59L551.25 -508.55L555 -504.46L558.75 -500.3L562.5 -496.08L566.25 -491.79L570 -487.44L573.75 -483.02L577.5 -478.53L581.25 -473.97L585 -469.33L588.75 -464.62L592.5 -459.83L596.25 -454.96L600 -450L603.75 -444.96L607.5 -439.82L611.25 -434.6L615 -429.27L618.75 -423.85L622.5 -418.32L626.25 -412.69L630 -406.94L633.75 -401.07L637.5 -395.09L641.25 -388.97L645 -382.72L648.75 -376.33L652.5 -369.79L656.25 -363.09L660 -356.23L663.75 -349.19L667.5 -341.97L671.25 -334.55L675 -326.92L678.75 -319.06L682.5 -310.96L686.25 -302.59L690 -293.94L693.75 -284.98L697.5 -275.67L701.25 -265.99L705 -255.88L708.75 -245.3L712.5 -234.19L716.25 -222.45L720 -210L723.75 -196.69L727.5 -182.33L731.25 -166.65L735 -149.25L738.75 -129.42L742.5 -105.8L746.25 -74.91L750 0"/>
<path class="dcb" d="M0 -600L3 -599.99L6 -599.97L9 -599.93L12 -599.88L15 -599.81L18 -599.73L21 -599.63L24 -599.52L27 -599.39L30 -599.25L33 -599.09L36 -598.92L39 -598.73L42 -598.53L45 -598.31L48 -598.08L51 -597.83L54 -597.57L57 -597.29L60 -596.99L63 -596.68L66 -596.36L69 -596.02L72 -595.66L75 -595.29L78 -594.91L81 -594.51L84 -594.09L87 -593.66L90 -593.21L93 -592.75L96 -592.27L99 -591.78L102 -591.27L105 -590.74L108 -590.2L111 -589.64L114 -589.07L117 -588.48L120 -587.88L123 -587.26L126 -586.62L129 -585.97L132 -585.3L135 -584.62L138 -583.91L141 -583.2L144 -582.46L147 -581.71L150 -580.95L153 -580.16L156 -579.37L159 -578.55L162 -577.72L165 -576.87L168 -576L171 -575.12L174 -574.22L177 -573.3L180 -572.36L183 -571.41L186 -570.44L189 -569.46L192 -568.45L195 -567.43L198 -566.39L201 -565.33L204 -564.26L207 -563.16L210 -562.05L213 -560.92L216 -559.77L219 -558.6L222 -557.42L225 -556.21L228 -554.99L231 -553.75L234 -552.49L237 -551.21L240 -549.91L243 -548.59L246 -547.25L249 -545.89L252 -544.51L255 -543.12L258 -541.7L261 -540.26L264 -538.8L267 -537.32L270 -535.82L273 -534.29L276 -532.75L279 -531.19L282 -529.6L285 -527.99L288 -526.36L291 -524.71L294 -523.03L297 -521.34L300 -519.62L303 -517.87L306 -516.1L309 -514.31L312 -512.5L315 -510.66L318 -508.8L321 -506.91L324 -505L327 -503.06L330 -501.1L333 -499.11L336 -497.1L339 -495.05L342 -492.99L345 -490.89L348 -488.77L351 -486.62L354 -484.44L357 -482.24L360 -480L363 -477.74L366 -475.44L369 -473.12L372 -470.76L375 -468.37L378 -465.96L381 -463.51L384 -461.02L387 -458.51L390 -455.96L393 -453.38L396 -450.76L399 -448.11L402 -445.42L405 -442.69L408 -439.93L411 -437.13L414 -434.29L417 -431.41L420 -428.49L423 -425.52L426 -422.52L429 -419.47L432 -416.38L435 -413.25L438 -410.07L441 -406.84L444 -403.56L447 -400.24L450 -396.86L453 -393.43L456 -389.95L459 -386.42L462 -382.83L465 -379.18L468 -375.47L471 -371.7L474 -367.86L477 -363.97L480 -360L483 -355.96L486 -351.86L489 -347.68L492 -343.42L495 -339.08L498 -334.66L501 -330.15L504 -325.55L507 -320.86L510 -316.07L513 -311.18L516 -306.18L519 -301.06L522 -295.83L525 -290.47L528 -284.98L531 -279.35L534 -273.58L537 -267.64L540 -261.53L543 -255.25L546 -248.76L549 -242.07L552 -235.15L555 -227.98L558 -220.54L561 -212.79L564 -204.7L567 -196.24L570 -187.35L573 -177.96L576 -168L579 -157.35L582 -145.86L585 -133.32L588 -119.4L591 -103.53L594 -84.64L597 -59.92L600 0"/>
<path class="arc" d="M0 -990L4.95 -989.99L9.9 -989.95L14.85 -989.89L19.8 -989.8L24.75 -989.69L29.7 -989.55L34.65 -989.39L39.6 -989.21L44.55 -989L49.5 -988.76L54.45 -988.5L59.4 -988.22L64.35 -987.91L69.3 -987.57L74.25 -987.21L79.2 -986.83L84.15 -986.42L89.1 -985.98L94.05 -985.52L99 -985.04L103.95 -984.53L108.9 -983.99L113.85 -983.43L118.8 -982.85L123.75 -982.24L128.7 -981.6L133.65 -980.94L138.6 -980.25L143.55 -979.54L148.5 -978.8L153.45 -978.04L158.4 -977.25L163.35 -976.43L168.3 -975.59L173.25 -974.72L178.2 -973.83L183.15 -972.91L188.1 -971.97L193.05 -971L198 -970L202.95 -968.97L207.9 -967.92L212.85 -966.85L217.8 -965.74L222.75 -964.62L227.7 -963.46L232.65 -962.28L237.6 -961.07L242.55 -959.83L247.5 -958.56L252.45 -957.27L257.4 -955.95L262.35 -954.61L267.3 -953.23L272.25 -951.83L277.2 -950.4L282.15 -948.94L287.1 -947.46L292.05 -945.94L297 -944.4L301.95 -942.83L306.9 -941.23L311.85 -939.6L316.8 -937.94L321.75 -936.26L326.7 -934.54L331.65 -932.8L336.6 -931.02L341.55 -929.22L346.5 -927.38L351.45 -925.52L356.4 -923.62L361.35 -921.7L366.3 -919.74L371.25 -917.75L376.2 -915.74L381.15 -913.69L386.1 -911.61L391.05 -909.49L396 -907.35L400.95 -905.17L405.9 -902.96L410.85 -900.72L415.8 -898.45L420.75 -896.14L425.7 -893.8L430.65 -891.43L435.6 -889.02L440.55 -886.58L445.5 -884.1L450.45 -881.59L455.4 -879.04L460.35 -876.46L465.3 -873.84L470.25 -871.19L475.2 -868.5L480.15 -865.77L485.1 -863.01L490.05 -860.2L495 -857.37L499.95 -854.49L504.9 -851.57L509.85 -848.62L514.8 -845.62L519.75 -842.59L524.7 -839.52L529.65 -836.4L534.6 -833.25L539.55 -830.05L544.5 -826.81L549.45 -823.53L554.4 -820.21L559.35 -816.84L564.3 -813.43L569.25 -809.97L574.2 -806.47L579.15 -802.92L584.1 -799.33L589.05 -795.69L594 -792L598.95 -788.26L603.9 -784.48L608.85 -780.64L613.8 -776.76L618.75 -772.82L623.7 -768.83L628.65 -764.79L633.6 -760.69L638.55 -756.54L643.5 -752.33L648.45 -748.07L653.4 -743.75L658.35 -739.37L663.3 -734.94L668.25 -730.44L673.2 -725.88L678.15 -721.26L683.1 -716.57L688.05 -711.82L693 -707L697.95 -702.12L702.9 -697.16L707.85 -692.13L712.8 -687.03L717.75 -681.86L722.7 -676.61L727.65 -671.29L732.6 -665.88L737.55 -660.39L742.5 -654.82L747.45 -649.17L752.4 -643.42L757.35 -637.59L762.3 -631.66L767.25 -625.64L772.2 -619.52L777.15 -613.3L782.1 -606.98L787.05 -600.54L792 -594L796.95 -587.34L801.9 -580.57L806.85 -573.67L811.8 -566.64L816.75 -559.48L821.7 -552.19L826.65 -544.75L831.6 -537.16L836.55 -529.42L841.5 -521.51L846.45 -513.44L851.4 -505.19L856.35 -496.75L861.3 -488.12L866.25 -479.28L871.2 -470.22L876.15 -460.94L881.1 -451.4L886.05 -441.61L891 -431.53L895.95 -421.16L900.9 -410.46L905.85 -399.42L910.8 -388L915.75 -376.17L920.7 -363.88L925.65 -351.1L930.6 -337.76L935.55 -323.8L940.5 -309.13L945.45 -293.64L950.4 -277.2L955.35 -259.63L960.3 -240.67L965.25 -219.98L970.2 -197.01L975.15 -170.83L980.1 -139.66L985.05 -98.88L990 0"/>
<path class="tk" d="M99 -985.04L96.6 -961.16M198 -970L193.2 -946.48M297 -944.4L289.8 -921.51M396 -907.35L386.4 -885.35M495 -857.37L483 -836.58M594 -792L579.6 -772.8M693 -707L676.2 -689.86M792 -594L772.8 -579.6M891 -431.53L869.4 -421.07M940.5 -309.13L917.7 -301.63M980.1 -139.66L956.34 -136.27M49.5 -988.76L48.9 -976.78M148.5 -978.8L146.7 -966.93M247.5 -958.56L244.5 -946.94M346.5 -927.38L342.3 -916.14M445.5 -884.1L440.1 -873.38M544.5 -826.81L537.9 -816.79M643.5 -752.33L635.7 -743.22M742.5 -654.82L733.5 -646.89M841.5 -521.51L831.3 -515.19M900.9 -410.46L889.98 -405.49M910.8 -388L899.76 -383.3M920.7 -363.88L909.54 -359.47M930.6 -337.76L919.32 -333.67M950.4 -277.2L938.88 -273.84M960.3 -240.67L948.66 -237.76M970.2 -197.01L958.44 -194.62M0 0L0 -24M0 0L24 0M150 0L150 -24M0 -150L24 -150M300 0L300 -24M0 -300L24 -300M450 0L450 -24M0 -450L24 -450M600 0L600 -24M0 -600L24 -600M750 0L750 -24M0 -750L24 -750M900 0L900 -24M0 -900L24 -900"/>
<path class="ax" d="M0.55 -990L0.55 -0.9L990 -0.9"/>
<circle cx="600.56" cy="-1.7" r="8.1"/>
<circle cx="627.7" cy="-146.7" r="9.1" fill="#556B2F"/>
<circle cx="616.1" cy="-178" r="9.1" fill="#FF8C00"/>
<circle cx="614.4" cy="-177.2" r="9.1" fill="#8B2323"/>
<circle cx="645.2" cy="-192.4" r="9.1" fill="#FFC0CB"/>
<circle cx="646.1" cy="-191.8" r="9.1" fill="#FF4500"/>
<circle cx="620.5" cy="-152.4" r="9.1" fill="#0000FF"/>
<circle cx="574.7" cy="-185" r="9.1" fill="#D2691E"/>
<circle cx="603.5" cy="-178.4" r="9.1" fill="#53868B"/>
<circle cx="562.1" cy="-130.6" r="9.1" fill="#6495ED"/>
<circle cx="587.5" cy="-230.5" r="9.1" fill="#696969"/>
<circle cx="587.9" cy="-156.7" r="9.1" fill="#CDAD00"/>
<circle cx="586.2" cy="-120.9" r="9.1" fill="#838B83"/>
<circle cx="614.3" cy="-177.9" r="9.1" fill="#B0C4DE"/>
<circle cx="628.3" cy="-161.9" r="9.1" fill="#AFEEEE"/>
<circle cx="625.9" cy="-150.1" r="9.1" fill="#00CED1"/>
<circle cx="591.3" cy="-127.6" r="9.1" fill="#48D1CC"/>
<circle cx="584.2" cy="-160.1" r="9.1" fill="#2E8B57"/>
<text transform="translate(590.7 -169.6)" text-anchor="middle" fill="#2E8B57" stroke="#2E8B57" style="font-size:34.5px">17</text>
<text transform="translate(597.8 -137.1)" text-anchor="middle" fill="#48D1CC" stroke="#48D1CC" style="font-size:34.5px">16</text>
<text transform="translate(632.4 -159.6)" text-anchor="middle" fill="#00CED1" stroke="#00CED1" style="font-size:34.5px">15</text>
<text transform="translate(634.8 -171.4)" text-anchor="middle" fill="#AFEEEE" stroke="#AFEEEE" style="font-size:34.5px">14</text>
<text transform="translate(620.8 -187.4)" text-anchor="middle" fill="#B0C4DE" stroke="#B0C4DE" style="font-size:34.5px">13</text>
<text transform="translate(592.7 -130.4)" text-anchor="middle" fill="#838B83" stroke="#838B83" style="font-size:34.5px">12</text>
<text transform="translate(594.4 -166.2)" text-anchor="middle" fill="#CDAD00" stroke="#CDAD00" style="font-size:34.5px">11</text>
<text transform="translate(594 -240)" text-anchor="middle" fill="#696969" stroke="#696969" style="font-size:34.5px">10</text>
<text transform="translate(568.6 -140.1)" text-anchor="middle" fill="#6495ED" stroke="#6495ED" style="font-size:34.5px">9</text>
<text transform="translate(610 -187.9)" text-anchor="middle" fill="#53868B" stroke="#53868B" style="font-size:34.5px">8</text>
<text transform="translate(581.2 -194.5)" text-anchor="middle" fill="#D2691E" stroke="#D2691E" style="font-size:34.5px">7</text>
<text transform="translate(627 -161.9)" text-anchor="middle" fill="#0000FF" stroke="#0000FF" style="font-size:34.5px">6</text>
<text transform="translate(652.6 -201.3)" text-anchor="middle" fill="#FF4500" stroke="#FF4500" style="font-size:34.5px">5</text>
<text transform="translate(651.7 -201.9)" text-anchor="middle" fill="#FFC0CB" stroke="#FFC0CB" style="font-size:34.5px">4</text>
<text transform="translate(620.9 -186.7)" text-anchor="middle" fill="#8B2323" stroke="#8B2323" style="font-size:34.5px">3</text>
<text transform="translate(622.6 -187.5)" text-anchor="middle" fill="#FF8C00" stroke="#FF8C00" style="font-size:34.5px">2</text>
<text transform="translate(634.2 -156.2)" text-anchor="middle" fill="#556B2F" stroke="#556B2F" style="font-size:34.5px">1</text>
</g>
<g transform="translate(1425.45 2378.95)">
<text transform="translate(525.2 -1091.4)" text-anchor="middle" style="font-size:50px">(D)</text>
<text transform="translate(-129 -524.7) rotate(-90)" text-anchor="middle">RMSL</text>
<text transform="translate(-27.3 13.1)" text-anchor="end">0.00</text>
<text transform="translate(-27.3 -136.9)" text-anchor="end">0.25</text>
<text transform="translate(-27.3 -286.9)" text-anchor="end">0.50</text>
<text transform="translate(-27.3 -436.9)" text-anchor="end">0.75</text>
<text transform="translate(-27.3 -586.9)" text-anchor="end">1.00</text>
<text transform="translate(-27.3 -736.9)" text-anchor="end">1.25</text>
<text transform="translate(-27.3 -886.9)" text-anchor="end">1.50</text>
<text transform="translate(150.6 55.8)" text-anchor="middle">0.25</text>
<text transform="translate(300.6 55.8)" text-anchor="middle">0.50</text>
<text transform="translate(450.6 55.8)" text-anchor="middle">0.75</text>
<text transform="translate(600.6 55.8)" text-anchor="middle">REF</text>
<text transform="translate(750.6 55.8)" text-anchor="middle">1.25</text>
<text transform="translate(900.6 55.8)" text-anchor="middle">1.50</text>
<text transform="translate(28.4 -826.6)" class="b">1<tspan dx="-2.2"> - ACCESS-ESM1-5</tspan></text>
<text transform="translate(28.4 -781.6)">2 - CanESM5</text>
<text transform="translate(28.4 -736.6)">3 - CanESM5-CanOE</text>
<text transform="translate(28.4 -691.6)">4 - CESM2</text>
<text transform="translate(28.4 -646.6)">5 - CESM2-WACCM</text>
<text transform="translate(28.4 -601.6)" class="b">6 - CNRM-ESM2-1</text>
<text transform="translate(28.4 -556.6)" class="b">7 - GFDL-CM4</text>
<text transform="translate(28.4 -511.6)" class="b">8 - GFDL-ESM4</text>
<text transform="translate(28.4 -466.6)" class="b">9 - IPSL-CM6A-LR</text>
<text transform="translate(28.4 -421.6)">10 - MIROC-ES2L</text>
<text transform="translate(28.4 -376.6)" class="b">11 - MPI-ESM1-2-LR</text>
<text transform="translate(28.4 -331.6)" class="b">12 - MPI-ESM1-2-HR</text>
<text transform="translate(28.4 -286.6)">13 - MRI-ESM2-0</text>
<text transform="translate(28.4 -241.6)">14 - NorESM2-LM</text>
<text transform="translate(28.4 -196.6)">15 - NorESM2-MM</text>
<text transform="translate(28.4 -151.6)" class="b">16 - UKESM1-0-LL</text>
<text transform="translate(28.4 -106.6)" class="b">17 - INM-CM4-8</text>
<text transform="translate(27.7 -999.4) rotate(-90)">0.0</text>
<text transform="translate(127.86 -996.21) rotate(-84.26)">0.1</text>
<text transform="translate(226.81 -976.16) rotate(-78.46)">0.2</text>
<text transform="translate(325.6 -949.66) rotate(-72.54)">0.3</text>
<text transform="translate(426.49 -910.96) rotate(-66.42)">0.4</text>
<text transform="translate(525.49 -858.58) rotate(-60)">0.5</text>
<text transform="translate(623.52 -789.86) rotate(-53.13)">0.6</text>
<text transform="translate(720.78 -701.48) rotate(-45.57)">0.7</text>
<text transform="translate(817.26 -585.32) rotate(-36.87)">0.8</text>
<text transform="translate(912.23 -419.81) rotate(-25.84)">0.9</text>
<text transform="translate(958.69 -296.05) rotate(-18.19)">0.95</text>
<text transform="translate(994.39 -125.83) rotate(-8.11)">0.99</text>
<text transform="translate(997 12.7)">1.0</text>
<text transform="translate(842.4 -763.8) rotate(45)" text-anchor="middle" dy="13.6">Similarity (VSC)</text>
<path class="gam" d="M750 0A150 150 0 0 0 450 0M900 0A300 300 0 0 0 300 0M948 -285.3A450 450 0 0 0 150 0M816.75 -559.48A600 600 0 0 0 0 0"/>
<path class="rad" d="M0 0L841.5 -521.51M0 0L891 -431.53M0 0L910.8 -388M0 0L930.6 -337.76M0 0L980.1 -139.66"/>
<path class="dc" d="M0 -630L3.15 -629.99L6.3 -629.97L9.45 -629.93L12.6 -629.87L15.75 -629.8L18.9 -629.72L22.05 -629.61L25.2 -629.5L28.35 -629.36L31.5 -629.21L34.65 -629.05L37.8 -628.86L40.95 -628.67L44.1 -628.45L47.25 -628.23L50.4 -627.98L53.55 -627.72L56.7 -627.44L59.85 -627.15L63 -626.84L66.15 -626.52L69.3 -626.18L72.45 -625.82L75.6 -625.45L78.75 -625.06L81.9 -624.65L85.05 -624.23L88.2 -623.8L91.35 -623.34L94.5 -622.87L97.65 -622.39L100.8 -621.88L103.95 -621.36L107.1 -620.83L110.25 -620.28L113.4 -619.71L116.55 -619.13L119.7 -618.52L122.85 -617.91L126 -617.27L129.15 -616.62L132.3 -615.95L135.45 -615.27L138.6 -614.56L141.75 -613.85L144.9 -613.11L148.05 -612.36L151.2 -611.59L154.35 -610.8L157.5 -609.99L160.65 -609.17L163.8 -608.33L166.95 -607.48L170.1 -606.6L173.25 -605.71L176.4 -604.8L179.55 -603.87L182.7 -602.93L185.85 -601.96L189 -600.98L192.15 -599.98L195.3 -598.96L198.45 -597.93L201.6 -596.87L204.75 -595.8L207.9 -594.71L211.05 -593.6L214.2 -592.47L217.35 -591.32L220.5 -590.15L223.65 -588.97L226.8 -587.76L229.95 -586.53L233.1 -585.29L236.25 -584.03L239.4 -582.74L242.55 -581.44L245.7 -580.11L248.85 -578.77L252 -577.4L255.15 -576.02L258.3 -574.61L261.45 -573.19L264.6 -571.74L267.75 -570.27L270.9 -568.78L274.05 -567.27L277.2 -565.74L280.35 -564.18L283.5 -562.61L286.65 -561.01L289.8 -559.39L292.95 -557.75L296.1 -556.08L299.25 -554.39L302.4 -552.68L305.55 -550.94L308.7 -549.19L311.85 -547.4L315 -545.6L318.15 -543.77L321.3 -541.91L324.45 -540.03L327.6 -538.12L330.75 -536.19L333.9 -534.24L337.05 -532.26L340.2 -530.25L343.35 -528.21L346.5 -526.15L349.65 -524.07L352.8 -521.95L355.95 -519.81L359.1 -517.64L362.25 -515.44L365.4 -513.21L368.55 -510.95L371.7 -508.66L374.85 -506.35L378 -504L381.15 -501.62L384.3 -499.21L387.45 -496.77L390.6 -494.3L393.75 -491.79L396.9 -489.25L400.05 -486.68L403.2 -484.08L406.35 -481.44L409.5 -478.76L412.65 -476.05L415.8 -473.3L418.95 -470.51L422.1 -467.69L425.25 -464.83L428.4 -461.92L431.55 -458.98L434.7 -456L437.85 -452.98L441 -449.91L444.15 -446.8L447.3 -443.65L450.45 -440.45L453.6 -437.2L456.75 -433.91L459.9 -430.57L463.05 -427.18L466.2 -423.74L469.35 -420.25L472.5 -416.71L475.65 -413.11L478.8 -409.45L481.95 -405.74L485.1 -401.97L488.25 -398.14L491.4 -394.24L494.55 -390.28L497.7 -386.26L500.85 -382.16L504 -378L507.15 -373.76L510.3 -369.45L513.45 -365.06L516.6 -360.59L519.75 -356.03L522.9 -351.39L526.05 -346.66L529.2 -341.83L532.35 -336.9L535.5 -331.87L538.65 -326.74L541.8 -321.49L544.95 -316.12L548.1 -310.62L551.25 -305L554.4 -299.23L557.55 -293.32L560.7 -287.26L563.85 -281.02L567 -274.61L570.15 -268.01L573.3 -261.2L576.45 -254.18L579.6 -246.91L582.75 -239.38L585.9 -231.56L589.05 -223.43L592.2 -214.94L595.35 -206.05L598.5 -196.72L601.65 -186.86L604.8 -176.4L607.95 -165.22L611.1 -153.16L614.25 -139.99L617.4 -125.37L620.55 -108.71L623.7 -88.87L626.85 -62.92L630 0M0 -660L3.3 -659.99L6.6 -659.97L9.9 -659.93L13.2 -659.87L16.5 -659.79L19.8 -659.7L23.1 -659.6L26.4 -659.47L29.7 -659.33L33 -659.17L36.3 -659L39.6 -658.81L42.9 -658.6L46.2 -658.38L49.5 -658.14L52.8 -657.88L56.1 -657.61L59.4 -657.32L62.7 -657.01L66 -656.69L69.3 -656.35L72.6 -655.99L75.9 -655.62L79.2 -655.23L82.5 -654.82L85.8 -654.4L89.1 -653.96L92.4 -653.5L95.7 -653.02L99 -652.53L102.3 -652.02L105.6 -651.5L108.9 -650.95L112.2 -650.39L115.5 -649.82L118.8 -649.22L122.1 -648.61L125.4 -647.98L128.7 -647.33L132 -646.67L135.3 -645.98L138.6 -645.28L141.9 -644.57L145.2 -643.83L148.5 -643.08L151.8 -642.31L155.1 -641.52L158.4 -640.71L161.7 -639.89L165 -639.04L168.3 -638.18L171.6 -637.3L174.9 -636.4L178.2 -635.49L181.5 -634.55L184.8 -633.6L188.1 -632.63L191.4 -631.64L194.7 -630.63L198 -629.6L201.3 -628.55L204.6 -627.49L207.9 -626.4L211.2 -625.3L214.5 -624.17L217.8 -623.03L221.1 -621.86L224.4 -620.68L227.7 -619.48L231 -618.25L234.3 -617.01L237.6 -615.75L240.9 -614.46L244.2 -613.16L247.5 -611.84L250.8 -610.49L254.1 -609.12L257.4 -607.74L260.7 -606.33L264 -604.9L267.3 -603.45L270.6 -601.98L273.9 -600.48L277.2 -598.97L280.5 -597.43L283.8 -595.87L287.1 -594.28L290.4 -592.68L293.7 -591.05L297 -589.4L300.3 -587.72L303.6 -586.03L306.9 -584.31L310.2 -582.56L313.5 -580.79L316.8 -579L320.1 -577.18L323.4 -575.34L326.7 -573.47L330 -571.58L333.3 -569.66L336.6 -567.72L339.9 -565.75L343.2 -563.75L346.5 -561.73L349.8 -559.68L353.1 -557.6L356.4 -555.5L359.7 -553.37L363 -551.21L366.3 -549.02L369.6 -546.81L372.9 -544.56L376.2 -542.29L379.5 -539.98L382.8 -537.65L386.1 -535.28L389.4 -532.89L392.7 -530.46L396 -528L399.3 -525.51L402.6 -522.98L405.9 -520.43L409.2 -517.84L412.5 -515.21L415.8 -512.55L419.1 -509.86L422.4 -507.13L425.7 -504.36L429 -501.56L432.3 -498.72L435.6 -495.84L438.9 -492.92L442.2 -489.96L445.5 -486.96L448.8 -483.92L452.1 -480.84L455.4 -477.71L458.7 -474.55L462 -471.33L465.3 -468.08L468.6 -464.77L471.9 -461.42L475.2 -458.02L478.5 -454.57L481.8 -451.08L485.1 -447.52L488.4 -443.92L491.7 -440.26L495 -436.55L498.3 -432.78L501.6 -428.95L504.9 -425.06L508.2 -421.11L511.5 -417.09L514.8 -413.01L518.1 -408.87L521.4 -404.65L524.7 -400.36L528 -396L531.3 -391.56L534.6 -387.04L537.9 -382.44L541.2 -377.76L544.5 -372.99L547.8 -368.12L551.1 -363.16L554.4 -358.11L557.7 -352.95L561 -347.68L564.3 -342.29L567.6 -336.79L570.9 -331.17L574.2 -325.41L577.5 -319.52L580.8 -313.48L584.1 -307.29L587.4 -300.93L590.7 -294.4L594 -287.69L597.3 -280.77L600.6 -273.64L603.9 -266.28L607.2 -258.67L610.5 -250.78L613.8 -242.59L617.1 -234.07L620.4 -225.18L623.7 -215.87L627 -206.08L630.3 -195.76L633.6 -184.8L636.9 -173.08L640.2 -160.45L643.5 -146.66L646.8 -131.34L650.1 -113.89L653.4 -93.1L656.7 -65.92L660 0M0 -690L3.45 -689.99L6.9 -689.97L10.35 -689.92L13.8 -689.86L17.25 -689.78L20.7 -689.69L24.15 -689.58L27.6 -689.45L31.05 -689.3L34.5 -689.14L37.95 -688.96L41.4 -688.76L44.85 -688.54L48.3 -688.31L51.75 -688.06L55.2 -687.79L58.65 -687.5L62.1 -687.2L65.55 -686.88L69 -686.54L72.45 -686.19L75.9 -685.81L79.35 -685.42L82.8 -685.01L86.25 -684.59L89.7 -684.14L93.15 -683.68L96.6 -683.2L100.05 -682.71L103.5 -682.19L106.95 -681.66L110.4 -681.11L113.85 -680.54L117.3 -679.96L120.75 -679.35L124.2 -678.73L127.65 -678.09L131.1 -677.43L134.55 -676.75L138 -676.06L141.45 -675.35L144.9 -674.61L148.35 -673.86L151.8 -673.09L155.25 -672.31L158.7 -671.5L162.15 -670.68L165.6 -669.83L169.05 -668.97L172.5 -668.09L175.95 -667.19L179.4 -666.27L182.85 -665.33L186.3 -664.37L189.75 -663.4L193.2 -662.4L196.65 -661.38L200.1 -660.35L203.55 -659.29L207 -658.22L210.45 -657.12L213.9 -656.01L217.35 -654.87L220.8 -653.72L224.25 -652.54L227.7 -651.35L231.15 -650.13L234.6 -648.89L238.05 -647.64L241.5 -646.36L244.95 -645.06L248.4 -643.74L251.85 -642.4L255.3 -641.03L258.75 -639.65L262.2 -638.24L265.65 -636.81L269.1 -635.36L272.55 -633.89L276 -632.4L279.45 -630.88L282.9 -629.34L286.35 -627.78L289.8 -626.19L293.25 -624.58L296.7 -622.95L300.15 -621.3L303.6 -619.62L307.05 -617.92L310.5 -616.19L313.95 -614.44L317.4 -612.66L320.85 -610.86L324.3 -609.04L327.75 -607.19L331.2 -605.32L334.65 -603.41L338.1 -601.49L341.55 -599.54L345 -597.56L348.45 -595.55L351.9 -593.52L355.35 -591.46L358.8 -589.37L362.25 -587.26L365.7 -585.12L369.15 -582.95L372.6 -580.75L376.05 -578.52L379.5 -576.26L382.95 -573.98L386.4 -571.66L389.85 -569.31L393.3 -566.93L396.75 -564.53L400.2 -562.09L403.65 -559.61L407.1 -557.11L410.55 -554.57L414 -552L417.45 -549.4L420.9 -546.76L424.35 -544.08L427.8 -541.38L431.25 -538.63L434.7 -535.85L438.15 -533.03L441.6 -530.18L445.05 -527.29L448.5 -524.35L451.95 -521.38L455.4 -518.37L458.85 -515.32L462.3 -512.23L465.75 -509.09L469.2 -505.92L472.65 -502.69L476.1 -499.43L479.55 -496.12L483 -492.76L486.45 -489.35L489.9 -485.9L493.35 -482.4L496.8 -478.84L500.25 -475.24L503.7 -471.58L507.15 -467.87L510.6 -464.1L514.05 -460.27L517.5 -456.39L520.95 -452.45L524.4 -448.45L527.85 -444.38L531.3 -440.25L534.75 -436.05L538.2 -431.79L541.65 -427.45L545.1 -423.04L548.55 -418.56L552 -414L555.45 -409.36L558.9 -404.64L562.35 -399.83L565.8 -394.93L569.25 -389.94L572.7 -384.86L576.15 -379.67L579.6 -374.38L583.05 -368.99L586.5 -363.48L589.95 -357.85L593.4 -352.1L596.85 -346.22L600.3 -340.21L603.75 -334.04L607.2 -327.73L610.65 -321.26L614.1 -314.61L617.55 -307.79L621 -300.76L624.45 -293.53L627.9 -286.08L631.35 -278.38L634.8 -270.42L638.25 -262.18L641.7 -253.62L645.15 -244.71L648.6 -235.41L652.05 -225.68L655.5 -215.45L658.95 -204.66L662.4 -193.2L665.85 -180.95L669.3 -167.74L672.75 -153.32L676.2 -137.31L679.65 -119.06L683.1 -97.34L686.55 -68.91L690 0M0 -720L3.6 -719.99L7.2 -719.96L10.8 -719.92L14.4 -719.86L18 -719.77L21.6 -719.68L25.2 -719.56L28.8 -719.42L32.4 -719.27L36 -719.1L39.6 -718.91L43.2 -718.7L46.8 -718.48L50.4 -718.23L54 -717.97L57.6 -717.69L61.2 -717.39L64.8 -717.08L68.4 -716.74L72 -716.39L75.6 -716.02L79.2 -715.63L82.8 -715.22L86.4 -714.8L90 -714.35L93.6 -713.89L97.2 -713.41L100.8 -712.91L104.4 -712.39L108 -711.85L111.6 -711.3L115.2 -710.72L118.8 -710.13L122.4 -709.52L126 -708.89L129.6 -708.24L133.2 -707.57L136.8 -706.88L140.4 -706.18L144 -705.45L147.6 -704.71L151.2 -703.94L154.8 -703.16L158.4 -702.36L162 -701.54L165.6 -700.7L169.2 -699.84L172.8 -698.96L176.4 -698.06L180 -697.14L183.6 -696.2L187.2 -695.24L190.8 -694.26L194.4 -693.26L198 -692.24L201.6 -691.2L205.2 -690.14L208.8 -689.06L212.4 -687.96L216 -686.84L219.6 -685.69L223.2 -684.53L226.8 -683.35L230.4 -682.14L234 -680.91L237.6 -679.67L241.2 -678.4L244.8 -677.11L248.4 -675.79L252 -674.46L255.6 -673.1L259.2 -671.73L262.8 -670.33L266.4 -668.9L270 -667.46L273.6 -665.99L277.2 -664.5L280.8 -662.99L284.4 -661.45L288 -659.89L291.6 -658.31L295.2 -656.7L298.8 -655.07L302.4 -653.42L306 -651.74L309.6 -650.04L313.2 -648.31L316.8 -646.56L320.4 -644.78L324 -642.98L327.6 -641.15L331.2 -639.3L334.8 -637.42L338.4 -635.52L342 -633.59L345.6 -631.63L349.2 -629.65L352.8 -627.64L356.4 -625.6L360 -623.54L363.6 -621.45L367.2 -619.33L370.8 -617.18L374.4 -615L378 -612.79L381.6 -610.56L385.2 -608.29L388.8 -606L392.4 -603.67L396 -601.32L399.6 -598.93L403.2 -596.51L406.8 -594.07L410.4 -591.58L414 -589.07L417.6 -586.52L421.2 -583.94L424.8 -581.33L428.4 -578.68L432 -576L435.6 -573.28L439.2 -570.53L442.8 -567.74L446.4 -564.91L450 -562.05L453.6 -559.15L457.2 -556.21L460.8 -553.23L464.4 -550.21L468 -547.15L471.6 -544.05L475.2 -540.91L478.8 -537.73L482.4 -534.5L486 -531.23L489.6 -527.91L493.2 -524.55L496.8 -521.14L500.4 -517.69L504 -514.18L507.6 -510.63L511.2 -507.03L514.8 -503.37L518.4 -499.66L522 -495.9L525.6 -492.08L529.2 -488.21L532.8 -484.28L536.4 -480.29L540 -476.24L543.6 -472.12L547.2 -467.94L550.8 -463.7L554.4 -459.39L558 -455.01L561.6 -450.56L565.2 -446.04L568.8 -441.44L572.4 -436.76L576 -432L579.6 -427.16L583.2 -422.23L586.8 -417.21L590.4 -412.1L594 -406.9L597.6 -401.59L601.2 -396.18L604.8 -390.66L608.4 -385.03L612 -379.28L615.6 -373.41L619.2 -367.41L622.8 -361.28L626.4 -355L630 -348.57L633.6 -341.98L637.2 -335.23L640.8 -328.29L644.4 -321.17L648 -313.84L651.6 -306.3L655.2 -298.52L658.8 -290.49L662.4 -282.18L666 -273.58L669.6 -264.64L673.2 -255.35L676.8 -245.65L680.4 -235.49L684 -224.82L687.6 -213.56L691.2 -201.6L694.8 -188.82L698.4 -175.04L702 -159.99L705.6 -143.28L709.2 -124.24L712.8 -101.57L716.4 -71.91L720 0M0 -750L3.75 -749.99L7.5 -749.96L11.25 -749.92L15 -749.85L18.75 -749.77L22.5 -749.66L26.25 -749.54L30 -749.4L33.75 -749.24L37.5 -749.06L41.25 -748.86L45 -748.65L48.75 -748.41L52.5 -748.16L56.25 -747.89L60 -747.6L63.75 -747.29L67.5 -746.96L71.25 -746.61L75 -746.24L78.75 -745.85L82.5 -745.45L86.25 -745.02L90 -744.58L93.75 -744.12L97.5 -743.64L101.25 -743.13L105 -742.61L108.75 -742.07L112.5 -741.51L116.25 -740.94L120 -740.34L123.75 -739.72L127.5 -739.08L131.25 -738.43L135 -737.75L138.75 -737.05L142.5 -736.34L146.25 -735.6L150 -734.85L153.75 -734.07L157.5 -733.28L161.25 -732.46L165 -731.62L168.75 -730.77L172.5 -729.89L176.25 -729L180 -728.08L183.75 -727.14L187.5 -726.18L191.25 -725.21L195 -724.21L198.75 -723.19L202.5 -722.15L206.25 -721.08L210 -720L213.75 -718.9L217.5 -717.77L221.25 -716.62L225 -715.45L228.75 -714.26L232.5 -713.05L236.25 -711.82L240 -710.56L243.75 -709.29L247.5 -707.99L251.25 -706.66L255 -705.32L258.75 -703.95L262.5 -702.56L266.25 -701.15L270 -699.71L273.75 -698.26L277.5 -696.77L281.25 -695.27L285 -693.74L288.75 -692.19L292.5 -690.61L296.25 -689.01L300 -687.39L303.75 -685.74L307.5 -684.06L311.25 -682.37L315 -680.64L318.75 -678.9L322.5 -677.12L326.25 -675.32L330 -673.5L333.75 -671.65L337.5 -669.77L341.25 -667.87L345 -665.94L348.75 -663.98L352.5 -662L356.25 -659.99L360 -657.95L363.75 -655.89L367.5 -653.79L371.25 -651.67L375 -649.52L378.75 -647.34L382.5 -645.13L386.25 -642.89L390 -640.62L393.75 -638.33L397.5 -636L401.25 -633.64L405 -631.25L408.75 -628.83L412.5 -626.37L416.25 -623.89L420 -621.37L423.75 -618.82L427.5 -616.23L431.25 -613.62L435 -610.96L438.75 -608.27L442.5 -605.55L446.25 -602.79L450 -600L453.75 -597.17L457.5 -594.3L461.25 -591.4L465 -588.45L468.75 -585.47L472.5 -582.45L476.25 -579.38L480 -576.28L483.75 -573.14L487.5 -569.95L491.25 -566.72L495 -563.45L498.75 -560.13L502.5 -556.77L506.25 -553.36L510 -549.91L513.75 -546.41L517.5 -542.86L521.25 -539.26L525 -535.61L528.75 -531.91L532.5 -528.15L536.25 -524.34L540 -520.48L543.75 -516.56L547.5 -512.59L551.25 -508.55L555 -504.46L558.75 -500.3L562.5 -496.08L566.25 -491.79L570 -487.44L573.75 -483.02L577.5 -478.53L581.25 -473.97L585 -469.33L588.75 -464.62L592.5 -459.83L596.25 -454.96L600 -450L603.75 -444.96L607.5 -439.82L611.25 -434.6L615 -429.27L618.75 -423.85L622.5 -418.32L626.25 -412.69L630 -406.94L633.75 -401.07L637.5 -395.09L641.25 -388.97L645 -382.72L648.75 -376.33L652.5 -369.79L656.25 -363.09L660 -356.23L663.75 -349.19L667.5 -341.97L671.25 -334.55L675 -326.92L678.75 -319.06L682.5 -310.96L686.25 -302.59L690 -293.94L693.75 -284.98L697.5 -275.67L701.25 -265.99L705 -255.88L708.75 -245.3L712.5 -234.19L716.25 -222.45L720 -210L723.75 -196.69L727.5 -182.33L731.25 -166.65L735 -149.25L738.75 -129.42L742.5 -105.8L746.25 -74.91L750 0"/>
<path class="dcb" d="M0 -600L3 -599.99L6 -599.97L9 -599.93L12 -599.88L15 -599.81L18 -599.73L21 -599.63L24 -599.52L27 -599.39L30 -599.25L33 -599.09L36 -598.92L39 -598.73L42 -598.53L45 -598.31L48 -598.08L51 -597.83L54 -597.57L57 -597.29L60 -596.99L63 -596.68L66 -596.36L69 -596.02L72 -595.66L75 -595.29L78 -594.91L81 -594.51L84 -594.09L87 -593.66L90 -593.21L93 -592.75L96 -592.27L99 -591.78L102 -591.27L105 -590.74L108 -590.2L111 -589.64L114 -589.07L117 -588.48L120 -587.88L123 -587.26L126 -586.62L129 -585.97L132 -585.3L135 -584.62L138 -583.91L141 -583.2L144 -582.46L147 -581.71L150 -580.95L153 -580.16L156 -579.37L159 -578.55L162 -577.72L165 -576.87L168 -576L171 -575.12L174 -574.22L177 -573.3L180 -572.36L183 -571.41L186 -570.44L189 -569.46L192 -568.45L195 -567.43L198 -566.39L201 -565.33L204 -564.26L207 -563.16L210 -562.05L213 -560.92L216 -559.77L219 -558.6L222 -557.42L225 -556.21L228 -554.99L231 -553.75L234 -552.49L237 -551.21L240 -549.91L243 -548.59L246 -547.25L249 -545.89L252 -544.51L255 -543.12L258 -541.7L261 -540.26L264 -538.8L267 -537.32L270 -535.82L273 -534.29L276 -532.75L279 -531.19L282 -529.6L285 -527.99L288 -526.36L291 -524.71L294 -523.03L297 -521.34L300 -519.62L303 -517.87L306 -516.1L309 -514.31L312 -512.5L315 -510.66L318 -508.8L321 -506.91L324 -505L327 -503.06L330 -501.1L333 -499.11L336 -497.1L339 -495.05L342 -492.99L345 -490.89L348 -488.77L351 -486.62L354 -484.44L357 -482.24L360 -480L363 -477.74L366 -475.44L369 -473.12L372 -470.76L375 -468.37L378 -465.96L381 -463.51L384 -461.02L387 -458.51L390 -455.96L393 -453.38L396 -450.76L399 -448.11L402 -445.42L405 -442.69L408 -439.93L411 -437.13L414 -434.29L417 -431.41L420 -428.49L423 -425.52L426 -422.52L429 -419.47L432 -416.38L435 -413.25L438 -410.07L441 -406.84L444 -403.56L447 -400.24L450 -396.86L453 -393.43L456 -389.95L459 -386.42L462 -382.83L465 -379.18L468 -375.47L471 -371.7L474 -367.86L477 -363.97L480 -360L483 -355.96L486 -351.86L489 -347.68L492 -343.42L495 -339.08L498 -334.66L501 -330.15L504 -325.55L507 -320.86L510 -316.07L513 -311.18L516 -306.18L519 -301.06L522 -295.83L525 -290.47L528 -284.98L531 -279.35L534 -273.58L537 -267.64L540 -261.53L543 -255.25L546 -248.76L549 -242.07L552 -235.15L555 -227.98L558 -220.54L561 -212.79L564 -204.7L567 -196.24L570 -187.35L573 -177.96L576 -168L579 -157.35L582 -145.86L585 -133.32L588 -119.4L591 -103.53L594 -84.64L597 -59.92L600 0"/>
<path class="arc" d="M0 -990L4.95 -989.99L9.9 -989.95L14.85 -989.89L19.8 -989.8L24.75 -989.69L29.7 -989.55L34.65 -989.39L39.6 -989.21L44.55 -989L49.5 -988.76L54.45 -988.5L59.4 -988.22L64.35 -987.91L69.3 -987.57L74.25 -987.21L79.2 -986.83L84.15 -986.42L89.1 -985.98L94.05 -985.52L99 -985.04L103.95 -984.53L108.9 -983.99L113.85 -983.43L118.8 -982.85L123.75 -982.24L128.7 -981.6L133.65 -980.94L138.6 -980.25L143.55 -979.54L148.5 -978.8L153.45 -978.04L158.4 -977.25L163.35 -976.43L168.3 -975.59L173.25 -974.72L178.2 -973.83L183.15 -972.91L188.1 -971.97L193.05 -971L198 -970L202.95 -968.97L207.9 -967.92L212.85 -966.85L217.8 -965.74L222.75 -964.62L227.7 -963.46L232.65 -962.28L237.6 -961.07L242.55 -959.83L247.5 -958.56L252.45 -957.27L257.4 -955.95L262.35 -954.61L267.3 -953.23L272.25 -951.83L277.2 -950.4L282.15 -948.94L287.1 -947.46L292.05 -945.94L297 -944.4L301.95 -942.83L306.9 -941.23L311.85 -939.6L316.8 -937.94L321.75 -936.26L326.7 -934.54L331.65 -932.8L336.6 -931.02L341.55 -929.22L346.5 -927.38L351.45 -925.52L356.4 -923.62L361.35 -921.7L366.3 -919.74L371.25 -917.75L376.2 -915.74L381.15 -913.69L386.1 -911.61L391.05 -909.49L396 -907.35L400.95 -905.17L405.9 -902.96L410.85 -900.72L415.8 -898.45L420.75 -896.14L425.7 -893.8L430.65 -891.43L435.6 -889.02L440.55 -886.58L445.5 -884.1L450.45 -881.59L455.4 -879.04L460.35 -876.46L465.3 -873.84L470.25 -871.19L475.2 -868.5L480.15 -865.77L485.1 -863.01L490.05 -860.2L495 -857.37L499.95 -854.49L504.9 -851.57L509.85 -848.62L514.8 -845.62L519.75 -842.59L524.7 -839.52L529.65 -836.4L534.6 -833.25L539.55 -830.05L544.5 -826.81L549.45 -823.53L554.4 -820.21L559.35 -816.84L564.3 -813.43L569.25 -809.97L574.2 -806.47L579.15 -802.92L584.1 -799.33L589.05 -795.69L594 -792L598.95 -788.26L603.9 -784.48L608.85 -780.64L613.8 -776.76L618.75 -772.82L623.7 -768.83L628.65 -764.79L633.6 -760.69L638.55 -756.54L643.5 -752.33L648.45 -748.07L653.4 -743.75L658.35 -739.37L663.3 -734.94L668.25 -730.44L673.2 -725.88L678.15 -721.26L683.1 -716.57L688.05 -711.82L693 -707L697.95 -702.12L702.9 -697.16L707.85 -692.13L712.8 -687.03L717.75 -681.86L722.7 -676.61L727.65 -671.29L732.6 -665.88L737.55 -660.39L742.5 -654.82L747.45 -649.17L752.4 -643.42L757.35 -637.59L762.3 -631.66L767.25 -625.64L772.2 -619.52L777.15 -613.3L782.1 -606.98L787.05 -600.54L792 -594L796.95 -587.34L801.9 -580.57L806.85 -573.67L811.8 -566.64L816.75 -559.48L821.7 -552.19L826.65 -544.75L831.6 -537.16L836.55 -529.42L841.5 -521.51L846.45 -513.44L851.4 -505.19L856.35 -496.75L861.3 -488.12L866.25 -479.28L871.2 -470.22L876.15 -460.94L881.1 -451.4L886.05 -441.61L891 -431.53L895.95 -421.16L900.9 -410.46L905.85 -399.42L910.8 -388L915.75 -376.17L920.7 -363.88L925.65 -351.1L930.6 -337.76L935.55 -323.8L940.5 -309.13L945.45 -293.64L950.4 -277.2L955.35 -259.63L960.3 -240.67L965.25 -219.98L970.2 -197.01L975.15 -170.83L980.1 -139.66L985.05 -98.88L990 0"/>
<path class="tk" d="M99 -985.04L96.6 -961.16M198 -970L193.2 -946.48M297 -944.4L289.8 -921.51M396 -907.35L386.4 -885.35M495 -857.37L483 -836.58M594 -792L579.6 -772.8M693 -707L676.2 -689.86M792 -594L772.8 -579.6M891 -431.53L869.4 -421.07M940.5 -309.13L917.7 -301.63M980.1 -139.66L956.34 -136.27M49.5 -988.76L48.9 -976.78M148.5 -978.8L146.7 -966.93M247.5 -958.56L244.5 -946.94M346.5 -927.38L342.3 -916.14M445.5 -884.1L440.1 -873.38M544.5 -826.81L537.9 -816.79M643.5 -752.33L635.7 -743.22M742.5 -654.82L733.5 -646.89M841.5 -521.51L831.3 -515.19M900.9 -410.46L889.98 -405.49M910.8 -388L899.76 -383.3M920.7 -363.88L909.54 -359.47M930.6 -337.76L919.32 -333.67M950.4 -277.2L938.88 -273.84M960.3 -240.67L948.66 -237.76M970.2 -197.01L958.44 -194.62M0 0L0 -24M0 0L24 0M150 0L150 -24M0 -150L24 -150M300 0L300 -24M0 -300L24 -300M450 0L450 -24M0 -450L24 -450M600 0L600 -24M0 -600L24 -600M750 0L750 -24M0 -750L24 -750M900 0L900 -24M0 -900L24 -900"/>
<path class="ax" d="M0.6 -990L0.6 -0.75L990 -0.75"/>
<circle cx="600.56" cy="-1.7" r="8.1"/>
<circle cx="633.85" cy="-116.35" r="9.1" fill="#556B2F"/>
<circle cx="624.75" cy="-156.95" r="9.1" fill="#FF8C00"/>
<circle cx="622.05" cy="-155.85" r="9.1" fill="#8B2323"/>
<circle cx="654.05" cy="-155.65" r="9.1" fill="#FFC0CB"/>
<circle cx="656.15" cy="-155.15" r="9.1" fill="#FF4500"/>
<circle cx="609.15" cy="-147.25" r="9.1" fill="#0000FF"/>
<circle cx="581.85" cy="-137.25" r="9.1" fill="#D2691E"/>
<circle cx="607.05" cy="-121.95" r="9.1" fill="#53868B"/>
<circle cx="578.55" cy="-102.75" r="9.1" fill="#6495ED"/>
<circle cx="603.55" cy="-168.55" r="9.1" fill="#696969"/>
<circle cx="587.65" cy="-124.25" r="9.1" fill="#CDAD00"/>
<circle cx="587.35" cy="-93.15" r="9.1" fill="#838B83"/>
<circle cx="616.35" cy="-181.75" r="9.1" fill="#B0C4DE"/>
<circle cx="634.55" cy="-147.15" r="9.1" fill="#AFEEEE"/>
<circle cx="635.05" cy="-148.85" r="9.1" fill="#00CED1"/>
<circle cx="596.45" cy="-97.15" r="9.1" fill="#48D1CC"/>
<circle cx="596.85" cy="-123.95" r="9.1" fill="#2E8B57"/>
<text transform="translate(603.35 -133.45)" text-anchor="middle" fill="#2E8B57" stroke="#2E8B57" style="font-size:34.5px">17</text>
<text transform="translate(602.95 -106.65)" text-anchor="middle" fill="#48D1CC" stroke="#48D1CC" style="font-size:34.5px">16</text>
<text transform="translate(641.55 -158.35)" text-anchor="middle" fill="#00CED1" stroke="#00CED1" style="font-size:34.5px">15</text>
<text transform="translate(641.05 -156.65)" text-anchor="middle" fill="#AFEEEE" stroke="#AFEEEE" style="font-size:34.5px">14</text>
<text transform="translate(622.85 -191.25)" text-anchor="middle" fill="#B0C4DE" stroke="#B0C4DE" style="font-size:34.5px">13</text>
<text transform="translate(593.85 -102.65)" text-anchor="middle" fill="#838B83" stroke="#838B83" style="font-size:34.5px">12</text>
<text transform="translate(594.15 -133.75)" text-anchor="middle" fill="#CDAD00" stroke="#CDAD00" style="font-size:34.5px">11</text>
<text transform="translate(610.05 -178.05)" text-anchor="middle" fill="#696969" stroke="#696969" style="font-size:34.5px">10</text>
<text transform="translate(585.05 -112.25)" text-anchor="middle" fill="#6495ED" stroke="#6495ED" style="font-size:34.5px">9</text>
<text transform="translate(613.55 -131.45)" text-anchor="middle" fill="#53868B" stroke="#53868B" style="font-size:34.5px">8</text>
<text transform="translate(588.35 -146.75)" text-anchor="middle" fill="#D2691E" stroke="#D2691E" style="font-size:34.5px">7</text>
<text transform="translate(615.65 -156.75)" text-anchor="middle" fill="#0000FF" stroke="#0000FF" style="font-size:34.5px">6</text>
<text transform="translate(662.65 -164.65)" text-anchor="middle" fill="#FF4500" stroke="#FF4500" style="font-size:34.5px">5</text>
<text transform="translate(660.55 -165.15)" text-anchor="middle" fill="#FFC0CB" stroke="#FFC0CB" style="font-size:34.5px">4</text>
<text transform="translate(628.55 -165.35)" text-anchor="middle" fill="#8B2323" stroke="#8B2323" style="font-size:34.5px">3</text>
<text transform="translate(631.25 -166.45)" text-anchor="middle" fill="#FF8C00" stroke="#FF8C00" style="font-size:34.5px">2</text>
<text transform="translate(640.35 -125.85)" text-anchor="middle" fill="#556B2F" stroke="#556B2F" style="font-size:34.5px">1</text>
</g>
</svg>
</body></html>
